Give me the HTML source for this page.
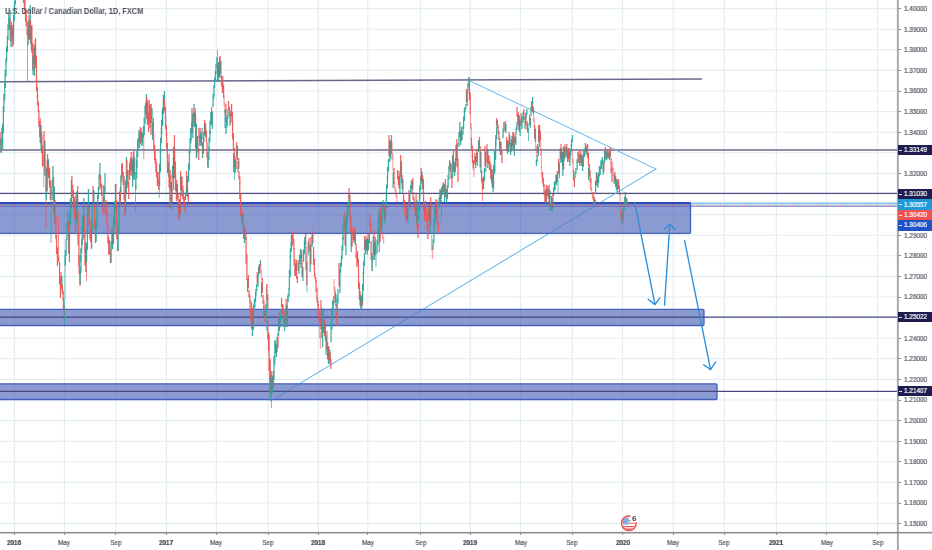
<!DOCTYPE html>
<html><head><meta charset="utf-8"><title>USDCAD</title>
<style>
html,body{margin:0;padding:0;background:#fff;}
body{width:932px;height:550px;position:relative;overflow:hidden;font-family:"Liberation Sans",sans-serif;}
.t{position:absolute;white-space:nowrap;}
.pl,.xl,.tag span,#title,.t{will-change:transform;}
.pl,.xl,.tag span{-webkit-text-stroke:0.22px currentColor;}
.pl{position:absolute;left:904px;font-size:7.3px;color:#555863;line-height:10px;transform:scaleX(0.875);transform-origin:0 50%;}
.xl{position:absolute;top:538px;font-size:7.3px;color:#555863;line-height:10px;transform:translateX(-50%) scaleX(0.86);}
.xl.b{font-weight:bold;color:#3c3f4a;}
.tag{position:absolute;left:898px;width:34px;height:10px;color:#fff;font-size:7.3px;line-height:10px;}
.tag i{position:absolute;left:1px;top:50%;width:3px;height:1px;background:#fff;opacity:.85}
.tag span{position:absolute;left:6px;top:0;transform:scaleX(0.875);transform-origin:0 50%;}
#title{position:absolute;left:5px;top:4px;font-size:8.8px;font-weight:bold;color:#50515a;line-height:14px;transform-origin:0 50%;transform:scaleX(0.842);}
</style></head><body>
<svg width="932" height="550" viewBox="0 0 932 550" style="position:absolute;left:0;top:0">
<g stroke="#e3edf3" stroke-width="1.1">
<line x1="14.4" y1="0" x2="14.4" y2="532.5"/>
<line x1="64.4" y1="0" x2="64.4" y2="532.5"/>
<line x1="115.9" y1="0" x2="115.9" y2="532.5"/>
<line x1="166.4" y1="0" x2="166.4" y2="532.5"/>
<line x1="216.3" y1="0" x2="216.3" y2="532.5"/>
<line x1="268.1" y1="0" x2="268.1" y2="532.5"/>
<line x1="318.3" y1="0" x2="318.3" y2="532.5"/>
<line x1="367.8" y1="0" x2="367.8" y2="532.5"/>
<line x1="420.6" y1="0" x2="420.6" y2="532.5"/>
<line x1="470.3" y1="0" x2="470.3" y2="532.5"/>
<line x1="520.5" y1="0" x2="520.5" y2="532.5"/>
<line x1="572.3" y1="0" x2="572.3" y2="532.5"/>
<line x1="622.5" y1="0" x2="622.5" y2="532.5"/>
<line x1="673.2" y1="0" x2="673.2" y2="532.5"/>
<line x1="724.3" y1="0" x2="724.3" y2="532.5"/>
<line x1="776.3" y1="0" x2="776.3" y2="532.5"/>
<line x1="826.5" y1="0" x2="826.5" y2="532.5"/>
<line x1="877.5" y1="0" x2="877.5" y2="532.5"/>
<line x1="0" y1="8.6" x2="897.5" y2="8.6"/>
<line x1="0" y1="29.2" x2="897.5" y2="29.2"/>
<line x1="0" y1="49.8" x2="897.5" y2="49.8"/>
<line x1="0" y1="70.4" x2="897.5" y2="70.4"/>
<line x1="0" y1="91.0" x2="897.5" y2="91.0"/>
<line x1="0" y1="111.6" x2="897.5" y2="111.6"/>
<line x1="0" y1="132.2" x2="897.5" y2="132.2"/>
<line x1="0" y1="152.8" x2="897.5" y2="152.8"/>
<line x1="0" y1="173.4" x2="897.5" y2="173.4"/>
<line x1="0" y1="194.0" x2="897.5" y2="194.0"/>
<line x1="0" y1="214.6" x2="897.5" y2="214.6"/>
<line x1="0" y1="235.2" x2="897.5" y2="235.2"/>
<line x1="0" y1="255.8" x2="897.5" y2="255.8"/>
<line x1="0" y1="276.4" x2="897.5" y2="276.4"/>
<line x1="0" y1="297.0" x2="897.5" y2="297.0"/>
<line x1="0" y1="317.6" x2="897.5" y2="317.6"/>
<line x1="0" y1="338.2" x2="897.5" y2="338.2"/>
<line x1="0" y1="358.8" x2="897.5" y2="358.8"/>
<line x1="0" y1="379.4" x2="897.5" y2="379.4"/>
<line x1="0" y1="400.0" x2="897.5" y2="400.0"/>
<line x1="0" y1="420.6" x2="897.5" y2="420.6"/>
<line x1="0" y1="441.2" x2="897.5" y2="441.2"/>
<line x1="0" y1="461.8" x2="897.5" y2="461.8"/>
<line x1="0" y1="482.4" x2="897.5" y2="482.4"/>
<line x1="0" y1="503.0" x2="897.5" y2="503.0"/>
<line x1="0" y1="523.6" x2="897.5" y2="523.6"/>
</g>
<line x1="0" y1="81.7" x2="702" y2="79" stroke="#6a658c" stroke-width="1.5"/>
<line x1="0" y1="150" x2="897.5" y2="150" stroke="#928eae" stroke-width="1.9"/>
<line x1="0" y1="193.4" x2="897.5" y2="193.4" stroke="#55507d" stroke-width="1.15"/>
<line x1="690" y1="203.6" x2="897.5" y2="203.6" stroke="#84c7ec" stroke-width="2"/>
<g stroke="#62b6e6" stroke-width="1.0" fill="none" stroke-linecap="round">
<line x1="271.5" y1="400.5" x2="656" y2="169"/>
<line x1="469.3" y1="80.6" x2="656" y2="169"/>
</g>
<rect x="-2" y="202.6" width="692.5" height="30.8" rx="1.2" fill="rgba(64,86,180,0.6)" stroke="#4560bb" stroke-width="1.3"/>
<line x1="0" y1="203.2" x2="690.5" y2="203.2" stroke="#2a4cb3" stroke-width="2.2"/>
<rect x="-2" y="309.3" width="706.0" height="16.2" rx="1.2" fill="rgba(64,86,180,0.6)" stroke="#4560bb" stroke-width="1.3"/>
<line x1="0" y1="317.2" x2="897.5" y2="317.2" stroke="#47487f" stroke-width="1.3"/>
<rect x="-2" y="383.8" width="719.0" height="15.7" rx="1.2" fill="rgba(64,86,180,0.6)" stroke="#4560bb" stroke-width="1.3"/>
<line x1="0" y1="391.4" x2="897.5" y2="391.4" stroke="#47487f" stroke-width="1.3"/>
<g>
<rect x="-0.54" y="132.0" width="1.25" height="12.4" fill="#ef5350" opacity="0.92"/>
<rect x="0.29" y="140.0" width="1.25" height="12.0" fill="#ef5350" opacity="0.92"/>
<rect x="0.46" y="138.0" width="1.25" height="15.0" fill="#26a69a" opacity="0.92"/>
<rect x="1.29" y="128.0" width="1.25" height="15.5" fill="#26a69a" opacity="0.92"/>
<rect x="1.96" y="123.6" width="1.25" height="26.4" fill="#26a69a" opacity="0.92"/>
<rect x="2.79" y="106.0" width="1.25" height="27.3" fill="#26a69a" opacity="0.92"/>
<rect x="3.25" y="94.0" width="1.25" height="18.0" fill="#26a69a" opacity="0.92"/>
<rect x="4.09" y="82.0" width="1.25" height="18.6" fill="#26a69a" opacity="0.92"/>
<rect x="4.55" y="70.0" width="1.25" height="18.0" fill="#26a69a" opacity="0.92"/>
<rect x="5.39" y="58.0" width="1.25" height="18.6" fill="#26a69a" opacity="0.92"/>
<rect x="5.96" y="46.4" width="1.25" height="15.6" fill="#26a69a" opacity="0.92"/>
<rect x="6.79" y="36.0" width="1.25" height="16.1" fill="#26a69a" opacity="0.92"/>
<rect x="7.36" y="24.4" width="1.25" height="15.6" fill="#26a69a" opacity="0.92"/>
<rect x="8.20" y="14.0" width="1.25" height="16.1" fill="#26a69a" opacity="0.92"/>
<rect x="8.55" y="18.0" width="1.25" height="12.0" fill="#26a69a" opacity="0.92"/>
<rect x="9.39" y="10.0" width="1.25" height="12.4" fill="#26a69a" opacity="0.92"/>
<rect x="9.55" y="20.0" width="1.25" height="21.1" fill="#ef5350" opacity="0.88"/>
<rect x="10.39" y="25.9" width="1.25" height="21.1" fill="#26a69a" opacity="0.88"/>
<rect x="10.15" y="25.4" width="0.90" height="16.2" fill="#6f7478" opacity="0.60"/>
<rect x="10.76" y="22.0" width="1.25" height="15.5" fill="#ef5350" opacity="0.92"/>
<rect x="11.60" y="32.0" width="1.25" height="15.0" fill="#ef5350" opacity="0.92"/>
<rect x="11.96" y="25.0" width="1.25" height="15.6" fill="#ef5350" opacity="0.88"/>
<rect x="12.79" y="29.4" width="1.25" height="15.6" fill="#26a69a" opacity="0.88"/>
<rect x="12.55" y="29.0" width="0.90" height="12.0" fill="#6f7478" opacity="0.60"/>
<rect x="12.96" y="15.0" width="1.25" height="15.0" fill="#26a69a" opacity="0.92"/>
<rect x="13.79" y="5.0" width="1.25" height="15.5" fill="#26a69a" opacity="0.92"/>
<rect x="13.96" y="1.0" width="1.25" height="9.0" fill="#26a69a" opacity="0.92"/>
<rect x="14.79" y="-5.0" width="1.25" height="9.3" fill="#26a69a" opacity="0.92"/>
<rect x="22.95" y="-5.0" width="1.25" height="8.1" fill="#ef5350" opacity="0.92"/>
<rect x="23.80" y="0.2" width="1.25" height="7.8" fill="#ef5350" opacity="0.92"/>
<rect x="24.25" y="0.0" width="1.25" height="13.6" fill="#ef5350" opacity="0.92"/>
<rect x="25.10" y="8.8" width="1.25" height="13.2" fill="#ef5350" opacity="0.92"/>
<rect x="25.55" y="12.0" width="1.25" height="14.3" fill="#ef5350" opacity="0.92"/>
<rect x="26.40" y="21.2" width="1.25" height="13.8" fill="#ef5350" opacity="0.92"/>
<rect x="27.10" y="30.0" width="0.80" height="52.0" fill="#ef5350" opacity="0.85"/>
<rect x="27.55" y="21.6" width="1.25" height="23.4" fill="#26a69a" opacity="0.88"/>
<rect x="28.40" y="15.0" width="1.25" height="23.4" fill="#ef5350" opacity="0.88"/>
<rect x="28.15" y="21.0" width="0.90" height="18.0" fill="#6f7478" opacity="0.60"/>
<rect x="28.75" y="19.0" width="1.25" height="21.0" fill="#26a69a" opacity="0.92"/>
<rect x="29.60" y="5.0" width="1.25" height="21.7" fill="#26a69a" opacity="0.92"/>
<rect x="29.95" y="20.0" width="1.25" height="23.4" fill="#ef5350" opacity="0.88"/>
<rect x="30.80" y="26.6" width="1.25" height="23.4" fill="#26a69a" opacity="0.88"/>
<rect x="30.55" y="26.0" width="0.90" height="18.0" fill="#6f7478" opacity="0.60"/>
<rect x="31.25" y="25.0" width="1.25" height="27.9" fill="#ef5350" opacity="0.92"/>
<rect x="32.09" y="43.0" width="1.25" height="27.0" fill="#ef5350" opacity="0.92"/>
<rect x="32.45" y="57.0" width="1.25" height="18.0" fill="#26a69a" opacity="0.92"/>
<rect x="33.30" y="45.0" width="1.25" height="18.6" fill="#26a69a" opacity="0.92"/>
<rect x="33.75" y="47.9" width="1.25" height="28.1" fill="#26a69a" opacity="0.88"/>
<rect x="34.59" y="40.0" width="1.25" height="28.1" fill="#ef5350" opacity="0.88"/>
<rect x="34.35" y="47.2" width="0.90" height="21.6" fill="#6f7478" opacity="0.60"/>
<rect x="34.95" y="38.0" width="1.25" height="27.3" fill="#ef5350" opacity="0.92"/>
<rect x="35.80" y="55.6" width="1.25" height="26.4" fill="#ef5350" opacity="0.92"/>
<rect x="35.95" y="80.0" width="1.25" height="11.2" fill="#ef5350" opacity="0.92"/>
<rect x="36.80" y="87.2" width="1.25" height="10.8" fill="#ef5350" opacity="0.92"/>
<rect x="36.95" y="95.0" width="1.25" height="10.5" fill="#ef5350" opacity="0.92"/>
<rect x="37.80" y="101.8" width="1.25" height="10.2" fill="#ef5350" opacity="0.92"/>
<rect x="38.25" y="110.0" width="1.25" height="16.7" fill="#ef5350" opacity="0.92"/>
<rect x="39.09" y="120.8" width="1.25" height="16.2" fill="#ef5350" opacity="0.92"/>
<rect x="39.55" y="118.0" width="1.25" height="25.0" fill="#ef5350" opacity="0.88"/>
<rect x="40.40" y="125.0" width="1.25" height="25.0" fill="#26a69a" opacity="0.88"/>
<rect x="40.15" y="124.4" width="0.90" height="19.2" fill="#6f7478" opacity="0.60"/>
<rect x="40.95" y="132.0" width="1.25" height="21.1" fill="#ef5350" opacity="0.92"/>
<rect x="41.80" y="145.6" width="1.25" height="20.4" fill="#ef5350" opacity="0.92"/>
<rect x="42.25" y="135.0" width="1.25" height="32.2" fill="#ef5350" opacity="0.50"/>
<rect x="43.09" y="155.8" width="1.25" height="31.2" fill="#ef5350" opacity="0.50"/>
<rect x="43.45" y="131.0" width="1.25" height="35.1" fill="#ef5350" opacity="0.88"/>
<rect x="44.30" y="140.9" width="1.25" height="35.1" fill="#26a69a" opacity="0.88"/>
<rect x="44.05" y="140.0" width="0.90" height="27.0" fill="#6f7478" opacity="0.60"/>
<rect x="44.25" y="150.0" width="1.25" height="24.8" fill="#ef5350" opacity="0.50"/>
<rect x="45.09" y="166.0" width="1.25" height="24.0" fill="#ef5350" opacity="0.50"/>
<rect x="45.60" y="185.0" width="0.80" height="44.0" fill="#ef5350" opacity="0.85"/>
<rect x="45.75" y="168.8" width="1.25" height="31.2" fill="#26a69a" opacity="0.88"/>
<rect x="46.59" y="160.0" width="1.25" height="31.2" fill="#ef5350" opacity="0.88"/>
<rect x="46.35" y="168.0" width="0.90" height="24.0" fill="#6f7478" opacity="0.60"/>
<rect x="46.95" y="154.0" width="1.25" height="18.7" fill="#ef5350" opacity="0.88"/>
<rect x="47.80" y="159.3" width="1.25" height="18.7" fill="#26a69a" opacity="0.88"/>
<rect x="47.55" y="158.8" width="0.90" height="14.4" fill="#6f7478" opacity="0.60"/>
<rect x="47.95" y="165.0" width="1.25" height="11.8" fill="#ef5350" opacity="0.92"/>
<rect x="48.80" y="172.6" width="1.25" height="11.4" fill="#ef5350" opacity="0.92"/>
<rect x="48.95" y="168.0" width="1.25" height="19.8" fill="#ef5350" opacity="0.92"/>
<rect x="49.80" y="180.8" width="1.25" height="19.2" fill="#ef5350" opacity="0.92"/>
<rect x="50.60" y="187.0" width="0.80" height="56.0" fill="#26a69a" opacity="0.85"/>
<rect x="51.45" y="179.6" width="1.25" height="20.4" fill="#26a69a" opacity="0.92"/>
<rect x="52.30" y="166.0" width="1.25" height="21.1" fill="#26a69a" opacity="0.92"/>
<rect x="52.95" y="177.0" width="1.25" height="35.1" fill="#ef5350" opacity="0.88"/>
<rect x="53.80" y="186.9" width="1.25" height="35.1" fill="#26a69a" opacity="0.88"/>
<rect x="53.55" y="186.0" width="0.90" height="27.0" fill="#6f7478" opacity="0.60"/>
<rect x="54.45" y="200.0" width="1.25" height="24.2" fill="#ef5350" opacity="0.92"/>
<rect x="55.30" y="215.6" width="1.25" height="23.4" fill="#ef5350" opacity="0.92"/>
<rect x="55.95" y="235.0" width="1.25" height="19.2" fill="#ef5350" opacity="0.92"/>
<rect x="56.80" y="247.4" width="1.25" height="18.6" fill="#ef5350" opacity="0.92"/>
<rect x="58.10" y="217.0" width="0.80" height="45.0" fill="#ef5350" opacity="0.85"/>
<rect x="57.25" y="255.0" width="1.25" height="4.3" fill="#ef5350" opacity="0.92"/>
<rect x="58.09" y="257.8" width="1.25" height="4.2" fill="#ef5350" opacity="0.92"/>
<rect x="58.95" y="262.0" width="1.25" height="22.3" fill="#ef5350" opacity="0.92"/>
<rect x="59.80" y="276.4" width="1.25" height="21.6" fill="#ef5350" opacity="0.92"/>
<rect x="60.45" y="272.0" width="1.25" height="14.8" fill="#ef5350" opacity="0.88"/>
<rect x="61.30" y="276.2" width="1.25" height="14.8" fill="#26a69a" opacity="0.88"/>
<rect x="61.05" y="275.8" width="0.90" height="11.4" fill="#6f7478" opacity="0.60"/>
<rect x="61.75" y="285.0" width="1.25" height="9.3" fill="#ef5350" opacity="0.92"/>
<rect x="62.59" y="291.0" width="1.25" height="9.0" fill="#ef5350" opacity="0.92"/>
<rect x="62.75" y="298.0" width="1.25" height="11.2" fill="#ef5350" opacity="0.92"/>
<rect x="63.59" y="305.2" width="1.25" height="10.8" fill="#ef5350" opacity="0.92"/>
<rect x="64.00" y="300.0" width="0.80" height="25.0" fill="#26a69a" opacity="0.85"/>
<rect x="64.60" y="255.0" width="0.80" height="45.0" fill="#26a69a" opacity="0.85"/>
<rect x="64.66" y="249.8" width="1.25" height="16.2" fill="#26a69a" opacity="0.92"/>
<rect x="65.50" y="239.0" width="1.25" height="16.7" fill="#26a69a" opacity="0.92"/>
<rect x="66.25" y="222.6" width="1.25" height="17.4" fill="#26a69a" opacity="0.92"/>
<rect x="67.09" y="211.0" width="1.25" height="18.0" fill="#26a69a" opacity="0.92"/>
<rect x="67.95" y="222.0" width="1.25" height="31.2" fill="#ef5350" opacity="0.88"/>
<rect x="68.80" y="230.8" width="1.25" height="31.2" fill="#26a69a" opacity="0.88"/>
<rect x="68.55" y="230.0" width="0.90" height="24.0" fill="#6f7478" opacity="0.60"/>
<rect x="68.95" y="212.0" width="1.25" height="18.0" fill="#26a69a" opacity="0.92"/>
<rect x="69.80" y="200.0" width="1.25" height="18.6" fill="#26a69a" opacity="0.92"/>
<rect x="69.95" y="198.0" width="1.25" height="27.0" fill="#26a69a" opacity="0.92"/>
<rect x="70.80" y="180.0" width="1.25" height="27.9" fill="#26a69a" opacity="0.92"/>
<rect x="71.25" y="176.0" width="1.25" height="13.6" fill="#ef5350" opacity="0.92"/>
<rect x="72.09" y="184.8" width="1.25" height="13.2" fill="#ef5350" opacity="0.92"/>
<rect x="72.75" y="190.0" width="1.25" height="15.5" fill="#ef5350" opacity="0.92"/>
<rect x="73.59" y="200.0" width="1.25" height="15.0" fill="#ef5350" opacity="0.92"/>
<rect x="73.95" y="197.0" width="1.25" height="21.7" fill="#ef5350" opacity="0.92"/>
<rect x="74.80" y="211.0" width="1.25" height="21.0" fill="#ef5350" opacity="0.92"/>
<rect x="75.25" y="195.0" width="1.25" height="23.4" fill="#ef5350" opacity="0.88"/>
<rect x="76.09" y="201.6" width="1.25" height="23.4" fill="#26a69a" opacity="0.88"/>
<rect x="75.85" y="201.0" width="0.90" height="18.0" fill="#6f7478" opacity="0.60"/>
<rect x="76.25" y="191.5" width="1.25" height="19.5" fill="#26a69a" opacity="0.88"/>
<rect x="77.09" y="186.0" width="1.25" height="19.5" fill="#ef5350" opacity="0.88"/>
<rect x="76.85" y="191.0" width="0.90" height="15.0" fill="#6f7478" opacity="0.60"/>
<rect x="77.45" y="211.0" width="1.25" height="34.1" fill="#ef5350" opacity="0.92"/>
<rect x="78.30" y="233.0" width="1.25" height="33.0" fill="#ef5350" opacity="0.92"/>
<rect x="78.55" y="255.0" width="1.25" height="19.2" fill="#ef5350" opacity="0.92"/>
<rect x="79.39" y="267.4" width="1.25" height="18.6" fill="#ef5350" opacity="0.92"/>
<rect x="79.45" y="266.6" width="1.25" height="17.4" fill="#26a69a" opacity="0.92"/>
<rect x="80.30" y="255.0" width="1.25" height="18.0" fill="#26a69a" opacity="0.92"/>
<rect x="80.25" y="248.2" width="1.25" height="13.8" fill="#26a69a" opacity="0.92"/>
<rect x="81.09" y="239.0" width="1.25" height="14.3" fill="#26a69a" opacity="0.92"/>
<rect x="81.45" y="227.0" width="1.25" height="18.0" fill="#26a69a" opacity="0.92"/>
<rect x="82.30" y="215.0" width="1.25" height="18.6" fill="#26a69a" opacity="0.92"/>
<rect x="82.45" y="214.8" width="1.25" height="25.2" fill="#26a69a" opacity="0.92"/>
<rect x="83.30" y="198.0" width="1.25" height="26.0" fill="#26a69a" opacity="0.92"/>
<rect x="83.55" y="215.0" width="1.25" height="22.9" fill="#ef5350" opacity="0.92"/>
<rect x="84.39" y="229.8" width="1.25" height="22.2" fill="#ef5350" opacity="0.92"/>
<rect x="84.36" y="242.0" width="1.25" height="23.4" fill="#ef5350" opacity="0.88"/>
<rect x="85.20" y="248.6" width="1.25" height="23.4" fill="#26a69a" opacity="0.88"/>
<rect x="84.95" y="248.0" width="0.90" height="18.0" fill="#6f7478" opacity="0.60"/>
<rect x="86.10" y="246.0" width="0.80" height="35.0" fill="#ef5350" opacity="0.85"/>
<rect x="85.95" y="242.8" width="1.25" height="19.2" fill="#26a69a" opacity="0.92"/>
<rect x="86.80" y="230.0" width="1.25" height="19.8" fill="#26a69a" opacity="0.92"/>
<rect x="86.95" y="206.2" width="1.25" height="25.8" fill="#26a69a" opacity="0.92"/>
<rect x="87.80" y="189.0" width="1.25" height="26.7" fill="#26a69a" opacity="0.92"/>
<rect x="88.45" y="205.0" width="1.25" height="21.1" fill="#ef5350" opacity="0.92"/>
<rect x="89.30" y="218.6" width="1.25" height="20.4" fill="#ef5350" opacity="0.92"/>
<rect x="89.95" y="230.0" width="1.25" height="11.8" fill="#ef5350" opacity="0.92"/>
<rect x="90.80" y="237.6" width="1.25" height="11.4" fill="#ef5350" opacity="0.92"/>
<rect x="90.95" y="221.6" width="1.25" height="26.4" fill="#26a69a" opacity="0.92"/>
<rect x="91.80" y="204.0" width="1.25" height="27.3" fill="#26a69a" opacity="0.92"/>
<rect x="92.45" y="186.0" width="1.25" height="15.6" fill="#ef5350" opacity="0.88"/>
<rect x="93.30" y="190.4" width="1.25" height="15.6" fill="#26a69a" opacity="0.88"/>
<rect x="93.05" y="190.0" width="0.90" height="12.0" fill="#6f7478" opacity="0.60"/>
<rect x="93.95" y="204.0" width="1.25" height="24.2" fill="#ef5350" opacity="0.92"/>
<rect x="94.80" y="219.6" width="1.25" height="23.4" fill="#ef5350" opacity="0.92"/>
<rect x="95.45" y="219.2" width="1.25" height="22.8" fill="#26a69a" opacity="0.92"/>
<rect x="96.30" y="204.0" width="1.25" height="23.6" fill="#26a69a" opacity="0.92"/>
<rect x="96.95" y="194.6" width="1.25" height="11.4" fill="#26a69a" opacity="0.92"/>
<rect x="97.80" y="187.0" width="1.25" height="11.8" fill="#26a69a" opacity="0.92"/>
<rect x="98.45" y="173.8" width="1.25" height="16.2" fill="#26a69a" opacity="0.92"/>
<rect x="99.30" y="163.0" width="1.25" height="16.7" fill="#26a69a" opacity="0.92"/>
<rect x="99.95" y="175.0" width="1.25" height="13.0" fill="#ef5350" opacity="0.92"/>
<rect x="100.80" y="183.4" width="1.25" height="12.6" fill="#ef5350" opacity="0.92"/>
<rect x="101.45" y="196.0" width="1.25" height="11.8" fill="#ef5350" opacity="0.50"/>
<rect x="102.30" y="203.6" width="1.25" height="11.4" fill="#ef5350" opacity="0.50"/>
<rect x="102.55" y="185.0" width="1.25" height="17.4" fill="#ef5350" opacity="0.92"/>
<rect x="103.39" y="196.2" width="1.25" height="16.8" fill="#ef5350" opacity="0.92"/>
<rect x="103.55" y="185.8" width="1.25" height="19.2" fill="#26a69a" opacity="0.92"/>
<rect x="104.39" y="173.0" width="1.25" height="19.8" fill="#26a69a" opacity="0.92"/>
<rect x="105.45" y="200.0" width="1.25" height="15.5" fill="#ef5350" opacity="0.92"/>
<rect x="106.30" y="210.0" width="1.25" height="15.0" fill="#ef5350" opacity="0.92"/>
<rect x="107.25" y="225.0" width="1.25" height="18.6" fill="#ef5350" opacity="0.92"/>
<rect x="108.09" y="237.0" width="1.25" height="18.0" fill="#ef5350" opacity="0.92"/>
<rect x="108.95" y="240.0" width="1.25" height="14.3" fill="#ef5350" opacity="0.92"/>
<rect x="109.80" y="249.2" width="1.25" height="13.8" fill="#ef5350" opacity="0.92"/>
<rect x="110.45" y="241.4" width="1.25" height="21.6" fill="#26a69a" opacity="0.92"/>
<rect x="111.30" y="227.0" width="1.25" height="22.3" fill="#26a69a" opacity="0.92"/>
<rect x="111.95" y="231.8" width="1.25" height="17.2" fill="#26a69a" opacity="0.88"/>
<rect x="112.80" y="227.0" width="1.25" height="17.2" fill="#ef5350" opacity="0.88"/>
<rect x="112.55" y="231.4" width="0.90" height="13.2" fill="#6f7478" opacity="0.60"/>
<rect x="112.95" y="217.0" width="1.25" height="18.0" fill="#26a69a" opacity="0.92"/>
<rect x="113.80" y="205.0" width="1.25" height="18.6" fill="#26a69a" opacity="0.92"/>
<rect x="113.95" y="201.2" width="1.25" height="25.8" fill="#26a69a" opacity="0.92"/>
<rect x="114.80" y="184.0" width="1.25" height="26.7" fill="#26a69a" opacity="0.92"/>
<rect x="115.25" y="184.0" width="1.25" height="25.4" fill="#ef5350" opacity="0.92"/>
<rect x="116.09" y="200.4" width="1.25" height="24.6" fill="#ef5350" opacity="0.92"/>
<rect x="116.25" y="220.0" width="1.25" height="19.2" fill="#ef5350" opacity="0.92"/>
<rect x="117.09" y="232.4" width="1.25" height="18.6" fill="#ef5350" opacity="0.92"/>
<rect x="117.45" y="222.8" width="1.25" height="28.2" fill="#26a69a" opacity="0.92"/>
<rect x="118.30" y="204.0" width="1.25" height="29.1" fill="#26a69a" opacity="0.92"/>
<rect x="118.95" y="191.6" width="1.25" height="16.4" fill="#26a69a" opacity="0.88"/>
<rect x="119.80" y="187.0" width="1.25" height="16.4" fill="#ef5350" opacity="0.88"/>
<rect x="119.55" y="191.2" width="0.90" height="12.6" fill="#6f7478" opacity="0.60"/>
<rect x="120.25" y="175.2" width="1.25" height="16.8" fill="#26a69a" opacity="0.92"/>
<rect x="121.09" y="164.0" width="1.25" height="17.4" fill="#26a69a" opacity="0.92"/>
<rect x="121.75" y="163.0" width="1.25" height="13.6" fill="#ef5350" opacity="0.92"/>
<rect x="122.59" y="171.8" width="1.25" height="13.2" fill="#ef5350" opacity="0.92"/>
<rect x="123.45" y="176.0" width="1.25" height="24.2" fill="#ef5350" opacity="0.92"/>
<rect x="124.30" y="191.6" width="1.25" height="23.4" fill="#ef5350" opacity="0.92"/>
<rect x="124.95" y="180.2" width="1.25" height="34.8" fill="#26a69a" opacity="0.92"/>
<rect x="125.80" y="157.0" width="1.25" height="36.0" fill="#26a69a" opacity="0.92"/>
<rect x="126.25" y="160.0" width="1.25" height="15.5" fill="#ef5350" opacity="0.92"/>
<rect x="127.09" y="170.0" width="1.25" height="15.0" fill="#ef5350" opacity="0.92"/>
<rect x="127.26" y="170.0" width="1.25" height="18.0" fill="#ef5350" opacity="0.92"/>
<rect x="128.09" y="181.6" width="1.25" height="17.4" fill="#ef5350" opacity="0.92"/>
<rect x="128.96" y="162.8" width="1.25" height="17.2" fill="#26a69a" opacity="0.88"/>
<rect x="129.79" y="158.0" width="1.25" height="17.2" fill="#ef5350" opacity="0.88"/>
<rect x="129.55" y="162.4" width="0.90" height="13.2" fill="#6f7478" opacity="0.60"/>
<rect x="130.46" y="152.0" width="1.25" height="18.7" fill="#ef5350" opacity="0.88"/>
<rect x="131.29" y="157.3" width="1.25" height="18.7" fill="#26a69a" opacity="0.88"/>
<rect x="131.05" y="156.8" width="0.90" height="14.4" fill="#6f7478" opacity="0.60"/>
<rect x="131.96" y="159.7" width="1.25" height="27.3" fill="#26a69a" opacity="0.88"/>
<rect x="132.79" y="152.0" width="1.25" height="27.3" fill="#ef5350" opacity="0.88"/>
<rect x="132.55" y="159.0" width="0.90" height="21.0" fill="#6f7478" opacity="0.60"/>
<rect x="133.26" y="151.0" width="1.25" height="22.6" fill="#ef5350" opacity="0.88"/>
<rect x="134.09" y="157.4" width="1.25" height="22.6" fill="#26a69a" opacity="0.88"/>
<rect x="133.85" y="156.8" width="0.90" height="17.4" fill="#6f7478" opacity="0.60"/>
<rect x="135.10" y="184.0" width="0.80" height="29.0" fill="#26a69a" opacity="0.85"/>
<rect x="135.26" y="172.0" width="1.25" height="18.0" fill="#26a69a" opacity="0.92"/>
<rect x="136.09" y="160.0" width="1.25" height="18.6" fill="#26a69a" opacity="0.92"/>
<rect x="136.26" y="151.2" width="1.25" height="16.8" fill="#26a69a" opacity="0.92"/>
<rect x="137.09" y="140.0" width="1.25" height="17.4" fill="#26a69a" opacity="0.92"/>
<rect x="137.46" y="138.0" width="1.25" height="12.0" fill="#26a69a" opacity="0.92"/>
<rect x="138.29" y="130.0" width="1.25" height="12.4" fill="#26a69a" opacity="0.92"/>
<rect x="138.96" y="131.6" width="1.25" height="16.4" fill="#26a69a" opacity="0.88"/>
<rect x="139.79" y="127.0" width="1.25" height="16.4" fill="#ef5350" opacity="0.88"/>
<rect x="139.55" y="131.2" width="0.90" height="12.6" fill="#6f7478" opacity="0.60"/>
<rect x="140.46" y="128.0" width="1.25" height="14.0" fill="#ef5350" opacity="0.88"/>
<rect x="141.29" y="132.0" width="1.25" height="14.0" fill="#26a69a" opacity="0.88"/>
<rect x="141.05" y="131.6" width="0.90" height="10.8" fill="#6f7478" opacity="0.60"/>
<rect x="141.96" y="133.6" width="1.25" height="11.4" fill="#26a69a" opacity="0.92"/>
<rect x="142.79" y="126.0" width="1.25" height="11.8" fill="#26a69a" opacity="0.92"/>
<rect x="143.40" y="133.0" width="0.80" height="26.0" fill="#ef5350" opacity="0.85"/>
<rect x="143.56" y="117.6" width="1.25" height="17.4" fill="#26a69a" opacity="0.92"/>
<rect x="144.39" y="106.0" width="1.25" height="18.0" fill="#26a69a" opacity="0.92"/>
<rect x="144.96" y="102.4" width="1.25" height="12.6" fill="#26a69a" opacity="0.92"/>
<rect x="145.79" y="94.0" width="1.25" height="13.0" fill="#26a69a" opacity="0.92"/>
<rect x="145.96" y="97.0" width="1.25" height="21.8" fill="#ef5350" opacity="0.88"/>
<rect x="146.79" y="103.2" width="1.25" height="21.8" fill="#26a69a" opacity="0.88"/>
<rect x="146.55" y="102.6" width="0.90" height="16.8" fill="#6f7478" opacity="0.60"/>
<rect x="147.16" y="100.0" width="1.25" height="19.8" fill="#ef5350" opacity="0.92"/>
<rect x="147.99" y="112.8" width="1.25" height="19.2" fill="#ef5350" opacity="0.92"/>
<rect x="148.46" y="100.0" width="1.25" height="21.8" fill="#ef5350" opacity="0.88"/>
<rect x="149.29" y="106.2" width="1.25" height="21.8" fill="#26a69a" opacity="0.88"/>
<rect x="149.05" y="105.6" width="0.90" height="16.8" fill="#6f7478" opacity="0.60"/>
<rect x="149.56" y="104.0" width="1.25" height="19.2" fill="#ef5350" opacity="0.92"/>
<rect x="150.39" y="116.4" width="1.25" height="18.6" fill="#ef5350" opacity="0.92"/>
<rect x="150.56" y="104.0" width="1.25" height="14.8" fill="#ef5350" opacity="0.88"/>
<rect x="151.39" y="108.2" width="1.25" height="14.8" fill="#26a69a" opacity="0.88"/>
<rect x="151.15" y="107.8" width="0.90" height="11.4" fill="#6f7478" opacity="0.60"/>
<rect x="151.96" y="122.8" width="1.25" height="17.2" fill="#26a69a" opacity="0.88"/>
<rect x="152.79" y="118.0" width="1.25" height="17.2" fill="#ef5350" opacity="0.88"/>
<rect x="152.55" y="122.4" width="0.90" height="13.2" fill="#6f7478" opacity="0.60"/>
<rect x="153.16" y="135.0" width="1.25" height="15.5" fill="#ef5350" opacity="0.92"/>
<rect x="153.99" y="145.0" width="1.25" height="15.0" fill="#ef5350" opacity="0.92"/>
<rect x="154.46" y="150.0" width="1.25" height="13.6" fill="#ef5350" opacity="0.92"/>
<rect x="155.29" y="158.8" width="1.25" height="13.2" fill="#ef5350" opacity="0.92"/>
<rect x="155.96" y="163.0" width="1.25" height="14.3" fill="#ef5350" opacity="0.92"/>
<rect x="156.79" y="172.2" width="1.25" height="13.8" fill="#ef5350" opacity="0.92"/>
<rect x="157.36" y="172.0" width="1.25" height="11.2" fill="#ef5350" opacity="0.92"/>
<rect x="158.19" y="179.2" width="1.25" height="10.8" fill="#ef5350" opacity="0.92"/>
<rect x="158.80" y="185.0" width="0.80" height="13.0" fill="#26a69a" opacity="0.85"/>
<rect x="158.96" y="163.8" width="1.25" height="22.2" fill="#26a69a" opacity="0.92"/>
<rect x="159.79" y="149.0" width="1.25" height="22.9" fill="#26a69a" opacity="0.92"/>
<rect x="159.96" y="137.6" width="1.25" height="14.4" fill="#26a69a" opacity="0.92"/>
<rect x="160.79" y="128.0" width="1.25" height="14.9" fill="#26a69a" opacity="0.92"/>
<rect x="160.96" y="120.0" width="1.25" height="15.0" fill="#26a69a" opacity="0.92"/>
<rect x="161.79" y="110.0" width="1.25" height="15.5" fill="#26a69a" opacity="0.92"/>
<rect x="161.96" y="107.4" width="1.25" height="18.6" fill="#26a69a" opacity="0.92"/>
<rect x="162.79" y="95.0" width="1.25" height="19.2" fill="#26a69a" opacity="0.92"/>
<rect x="162.96" y="96.6" width="1.25" height="8.4" fill="#26a69a" opacity="0.92"/>
<rect x="163.79" y="91.0" width="1.25" height="8.7" fill="#26a69a" opacity="0.92"/>
<rect x="163.96" y="99.0" width="1.25" height="12.4" fill="#ef5350" opacity="0.92"/>
<rect x="164.79" y="107.0" width="1.25" height="12.0" fill="#ef5350" opacity="0.92"/>
<rect x="164.96" y="118.0" width="1.25" height="11.2" fill="#ef5350" opacity="0.92"/>
<rect x="165.79" y="125.2" width="1.25" height="10.8" fill="#ef5350" opacity="0.92"/>
<rect x="165.96" y="133.0" width="1.25" height="15.5" fill="#ef5350" opacity="0.92"/>
<rect x="166.79" y="143.0" width="1.25" height="15.0" fill="#ef5350" opacity="0.92"/>
<rect x="166.96" y="158.0" width="1.25" height="14.8" fill="#ef5350" opacity="0.88"/>
<rect x="167.79" y="162.2" width="1.25" height="14.8" fill="#26a69a" opacity="0.88"/>
<rect x="167.55" y="161.8" width="0.90" height="11.4" fill="#6f7478" opacity="0.60"/>
<rect x="168.46" y="154.0" width="1.25" height="33.5" fill="#ef5350" opacity="0.92"/>
<rect x="169.29" y="175.6" width="1.25" height="32.4" fill="#ef5350" opacity="0.92"/>
<rect x="169.56" y="170.0" width="1.25" height="18.6" fill="#ef5350" opacity="0.92"/>
<rect x="170.39" y="182.0" width="1.25" height="18.0" fill="#ef5350" opacity="0.92"/>
<rect x="170.56" y="182.7" width="1.25" height="27.3" fill="#26a69a" opacity="0.88"/>
<rect x="171.39" y="175.0" width="1.25" height="27.3" fill="#ef5350" opacity="0.88"/>
<rect x="171.15" y="182.0" width="0.90" height="21.0" fill="#6f7478" opacity="0.60"/>
<rect x="171.96" y="166.0" width="1.25" height="12.0" fill="#26a69a" opacity="0.92"/>
<rect x="172.79" y="158.0" width="1.25" height="12.4" fill="#26a69a" opacity="0.92"/>
<rect x="172.96" y="147.1" width="1.25" height="42.9" fill="#26a69a" opacity="0.88"/>
<rect x="173.79" y="135.0" width="1.25" height="42.9" fill="#ef5350" opacity="0.88"/>
<rect x="173.55" y="146.0" width="0.90" height="33.0" fill="#6f7478" opacity="0.60"/>
<rect x="173.96" y="151.0" width="1.25" height="16.1" fill="#ef5350" opacity="0.92"/>
<rect x="174.79" y="161.4" width="1.25" height="15.6" fill="#ef5350" opacity="0.92"/>
<rect x="174.96" y="175.0" width="1.25" height="16.1" fill="#ef5350" opacity="0.92"/>
<rect x="175.79" y="185.4" width="1.25" height="15.6" fill="#ef5350" opacity="0.92"/>
<rect x="175.96" y="180.0" width="1.25" height="14.8" fill="#ef5350" opacity="0.88"/>
<rect x="176.79" y="184.2" width="1.25" height="14.8" fill="#26a69a" opacity="0.88"/>
<rect x="176.55" y="183.8" width="0.90" height="11.4" fill="#6f7478" opacity="0.60"/>
<rect x="177.46" y="194.0" width="1.25" height="16.1" fill="#ef5350" opacity="0.92"/>
<rect x="178.29" y="204.4" width="1.25" height="15.6" fill="#ef5350" opacity="0.92"/>
<rect x="178.96" y="199.5" width="1.25" height="19.5" fill="#26a69a" opacity="0.88"/>
<rect x="179.79" y="194.0" width="1.25" height="19.5" fill="#ef5350" opacity="0.88"/>
<rect x="179.55" y="199.0" width="0.90" height="15.0" fill="#6f7478" opacity="0.60"/>
<rect x="179.96" y="171.0" width="1.25" height="19.5" fill="#ef5350" opacity="0.88"/>
<rect x="180.79" y="176.5" width="1.25" height="19.5" fill="#26a69a" opacity="0.88"/>
<rect x="180.55" y="176.0" width="0.90" height="15.0" fill="#6f7478" opacity="0.60"/>
<rect x="181.46" y="177.0" width="1.25" height="13.6" fill="#ef5350" opacity="0.92"/>
<rect x="182.29" y="185.8" width="1.25" height="13.2" fill="#ef5350" opacity="0.92"/>
<rect x="182.56" y="190.0" width="1.25" height="9.3" fill="#ef5350" opacity="0.92"/>
<rect x="183.39" y="196.0" width="1.25" height="9.0" fill="#ef5350" opacity="0.92"/>
<rect x="183.56" y="197.0" width="1.25" height="9.3" fill="#ef5350" opacity="0.92"/>
<rect x="184.39" y="203.0" width="1.25" height="9.0" fill="#ef5350" opacity="0.92"/>
<rect x="184.96" y="193.4" width="1.25" height="6.6" fill="#26a69a" opacity="0.92"/>
<rect x="185.79" y="189.0" width="1.25" height="6.8" fill="#26a69a" opacity="0.92"/>
<rect x="185.96" y="171.0" width="1.25" height="17.9" fill="#ef5350" opacity="0.88"/>
<rect x="186.79" y="176.1" width="1.25" height="17.9" fill="#26a69a" opacity="0.88"/>
<rect x="186.55" y="175.6" width="0.90" height="13.8" fill="#6f7478" opacity="0.60"/>
<rect x="186.96" y="188.0" width="1.25" height="9.3" fill="#ef5350" opacity="0.92"/>
<rect x="187.79" y="194.0" width="1.25" height="9.0" fill="#ef5350" opacity="0.92"/>
<rect x="187.96" y="163.4" width="1.25" height="18.6" fill="#26a69a" opacity="0.92"/>
<rect x="188.79" y="151.0" width="1.25" height="19.2" fill="#26a69a" opacity="0.92"/>
<rect x="189.36" y="138.0" width="1.25" height="15.0" fill="#26a69a" opacity="0.92"/>
<rect x="190.19" y="128.0" width="1.25" height="15.5" fill="#26a69a" opacity="0.92"/>
<rect x="190.36" y="129.2" width="1.25" height="10.8" fill="#26a69a" opacity="0.92"/>
<rect x="191.19" y="122.0" width="1.25" height="11.2" fill="#26a69a" opacity="0.92"/>
<rect x="191.36" y="108.0" width="1.25" height="23.4" fill="#ef5350" opacity="0.88"/>
<rect x="192.19" y="114.6" width="1.25" height="23.4" fill="#26a69a" opacity="0.88"/>
<rect x="191.95" y="114.0" width="0.90" height="18.0" fill="#6f7478" opacity="0.60"/>
<rect x="192.46" y="112.8" width="1.25" height="13.2" fill="#26a69a" opacity="0.92"/>
<rect x="193.29" y="104.0" width="1.25" height="13.6" fill="#26a69a" opacity="0.92"/>
<rect x="193.76" y="112.2" width="1.25" height="14.8" fill="#26a69a" opacity="0.88"/>
<rect x="194.59" y="108.0" width="1.25" height="14.8" fill="#ef5350" opacity="0.88"/>
<rect x="194.35" y="111.8" width="0.90" height="11.4" fill="#6f7478" opacity="0.60"/>
<rect x="194.96" y="114.0" width="1.25" height="34.3" fill="#ef5350" opacity="0.88"/>
<rect x="195.79" y="123.7" width="1.25" height="34.3" fill="#26a69a" opacity="0.88"/>
<rect x="195.55" y="122.8" width="0.90" height="26.4" fill="#6f7478" opacity="0.60"/>
<rect x="195.96" y="144.8" width="1.25" height="13.2" fill="#26a69a" opacity="0.92"/>
<rect x="196.79" y="136.0" width="1.25" height="13.6" fill="#26a69a" opacity="0.92"/>
<rect x="197.26" y="140.0" width="1.25" height="12.4" fill="#ef5350" opacity="0.92"/>
<rect x="198.09" y="148.0" width="1.25" height="12.0" fill="#ef5350" opacity="0.92"/>
<rect x="198.26" y="128.0" width="1.25" height="11.2" fill="#ef5350" opacity="0.92"/>
<rect x="199.09" y="135.2" width="1.25" height="10.8" fill="#ef5350" opacity="0.92"/>
<rect x="199.46" y="128.0" width="1.25" height="14.0" fill="#ef5350" opacity="0.88"/>
<rect x="200.29" y="132.0" width="1.25" height="14.0" fill="#26a69a" opacity="0.88"/>
<rect x="200.05" y="131.6" width="0.90" height="10.8" fill="#6f7478" opacity="0.60"/>
<rect x="200.66" y="135.2" width="1.25" height="10.8" fill="#26a69a" opacity="0.92"/>
<rect x="201.49" y="128.0" width="1.25" height="11.2" fill="#26a69a" opacity="0.92"/>
<rect x="201.96" y="142.4" width="1.25" height="15.6" fill="#26a69a" opacity="0.88"/>
<rect x="202.79" y="138.0" width="1.25" height="15.6" fill="#ef5350" opacity="0.88"/>
<rect x="202.55" y="142.0" width="0.90" height="12.0" fill="#6f7478" opacity="0.60"/>
<rect x="203.16" y="131.8" width="1.25" height="10.2" fill="#26a69a" opacity="0.92"/>
<rect x="203.99" y="125.0" width="1.25" height="10.5" fill="#26a69a" opacity="0.92"/>
<rect x="203.96" y="120.0" width="1.25" height="13.3" fill="#ef5350" opacity="0.88"/>
<rect x="204.79" y="123.7" width="1.25" height="13.3" fill="#26a69a" opacity="0.88"/>
<rect x="204.55" y="123.4" width="0.90" height="10.2" fill="#6f7478" opacity="0.60"/>
<rect x="204.96" y="123.0" width="1.25" height="11.8" fill="#ef5350" opacity="0.92"/>
<rect x="205.79" y="130.6" width="1.25" height="11.4" fill="#ef5350" opacity="0.92"/>
<rect x="206.36" y="142.0" width="1.25" height="15.5" fill="#ef5350" opacity="0.92"/>
<rect x="207.19" y="152.0" width="1.25" height="15.0" fill="#ef5350" opacity="0.92"/>
<rect x="207.46" y="155.4" width="1.25" height="12.6" fill="#26a69a" opacity="0.92"/>
<rect x="208.29" y="147.0" width="1.25" height="13.0" fill="#26a69a" opacity="0.92"/>
<rect x="208.46" y="137.6" width="1.25" height="11.4" fill="#26a69a" opacity="0.92"/>
<rect x="209.29" y="130.0" width="1.25" height="11.8" fill="#26a69a" opacity="0.92"/>
<rect x="209.36" y="120.8" width="1.25" height="13.2" fill="#26a69a" opacity="0.92"/>
<rect x="210.19" y="112.0" width="1.25" height="13.6" fill="#26a69a" opacity="0.92"/>
<rect x="210.96" y="107.0" width="1.25" height="17.2" fill="#ef5350" opacity="0.88"/>
<rect x="211.79" y="111.8" width="1.25" height="17.2" fill="#26a69a" opacity="0.88"/>
<rect x="211.55" y="111.4" width="0.90" height="13.2" fill="#6f7478" opacity="0.60"/>
<rect x="212.46" y="93.8" width="1.25" height="13.2" fill="#26a69a" opacity="0.92"/>
<rect x="213.29" y="85.0" width="1.25" height="13.6" fill="#26a69a" opacity="0.92"/>
<rect x="213.96" y="77.8" width="1.25" height="10.2" fill="#26a69a" opacity="0.92"/>
<rect x="214.79" y="71.0" width="1.25" height="10.5" fill="#26a69a" opacity="0.92"/>
<rect x="215.36" y="63.8" width="1.25" height="10.2" fill="#26a69a" opacity="0.92"/>
<rect x="216.19" y="57.0" width="1.25" height="10.5" fill="#26a69a" opacity="0.92"/>
<rect x="217.10" y="50.0" width="0.80" height="32.0" fill="#ef5350" opacity="0.85"/>
<rect x="216.96" y="66.4" width="1.25" height="15.6" fill="#26a69a" opacity="0.88"/>
<rect x="217.79" y="62.0" width="1.25" height="15.6" fill="#ef5350" opacity="0.88"/>
<rect x="217.55" y="66.0" width="0.90" height="12.0" fill="#6f7478" opacity="0.60"/>
<rect x="218.16" y="62.5" width="1.25" height="19.5" fill="#26a69a" opacity="0.88"/>
<rect x="218.99" y="57.0" width="1.25" height="19.5" fill="#ef5350" opacity="0.88"/>
<rect x="218.75" y="62.0" width="0.90" height="15.0" fill="#6f7478" opacity="0.60"/>
<rect x="219.46" y="56.0" width="1.25" height="17.2" fill="#ef5350" opacity="0.88"/>
<rect x="220.29" y="60.8" width="1.25" height="17.2" fill="#26a69a" opacity="0.88"/>
<rect x="220.05" y="60.4" width="0.90" height="13.2" fill="#6f7478" opacity="0.60"/>
<rect x="220.96" y="76.0" width="1.25" height="10.5" fill="#ef5350" opacity="0.92"/>
<rect x="221.79" y="82.8" width="1.25" height="10.2" fill="#ef5350" opacity="0.92"/>
<rect x="222.16" y="76.0" width="1.25" height="13.6" fill="#ef5350" opacity="0.92"/>
<rect x="222.99" y="84.8" width="1.25" height="13.2" fill="#ef5350" opacity="0.92"/>
<rect x="223.46" y="95.0" width="1.25" height="11.2" fill="#ef5350" opacity="0.50"/>
<rect x="224.29" y="102.2" width="1.25" height="10.8" fill="#ef5350" opacity="0.50"/>
<rect x="224.46" y="109.3" width="1.25" height="18.7" fill="#26a69a" opacity="0.88"/>
<rect x="225.29" y="104.0" width="1.25" height="18.7" fill="#ef5350" opacity="0.88"/>
<rect x="225.05" y="108.8" width="0.90" height="14.4" fill="#6f7478" opacity="0.60"/>
<rect x="225.36" y="124.4" width="1.25" height="9.6" fill="#26a69a" opacity="0.92"/>
<rect x="226.19" y="118.0" width="1.25" height="9.9" fill="#26a69a" opacity="0.92"/>
<rect x="226.46" y="115.4" width="1.25" height="9.6" fill="#26a69a" opacity="0.92"/>
<rect x="227.29" y="109.0" width="1.25" height="9.9" fill="#26a69a" opacity="0.92"/>
<rect x="227.96" y="101.0" width="1.25" height="9.3" fill="#ef5350" opacity="0.92"/>
<rect x="228.79" y="107.0" width="1.25" height="9.0" fill="#ef5350" opacity="0.92"/>
<rect x="229.46" y="113.5" width="1.25" height="12.5" fill="#26a69a" opacity="0.88"/>
<rect x="230.29" y="110.0" width="1.25" height="12.5" fill="#ef5350" opacity="0.88"/>
<rect x="230.05" y="113.2" width="0.90" height="9.6" fill="#6f7478" opacity="0.60"/>
<rect x="230.96" y="104.0" width="1.25" height="12.4" fill="#ef5350" opacity="0.92"/>
<rect x="231.79" y="112.0" width="1.25" height="12.0" fill="#ef5350" opacity="0.92"/>
<rect x="231.96" y="122.0" width="1.25" height="17.4" fill="#ef5350" opacity="0.92"/>
<rect x="232.79" y="133.2" width="1.25" height="16.8" fill="#ef5350" opacity="0.92"/>
<rect x="232.96" y="153.3" width="1.25" height="18.7" fill="#26a69a" opacity="0.88"/>
<rect x="233.79" y="148.0" width="1.25" height="18.7" fill="#ef5350" opacity="0.88"/>
<rect x="233.55" y="152.8" width="0.90" height="14.4" fill="#6f7478" opacity="0.60"/>
<rect x="234.20" y="160.0" width="0.80" height="20.0" fill="#26a69a" opacity="0.85"/>
<rect x="234.56" y="159.7" width="1.25" height="13.3" fill="#26a69a" opacity="0.88"/>
<rect x="235.39" y="156.0" width="1.25" height="13.3" fill="#ef5350" opacity="0.88"/>
<rect x="235.15" y="159.4" width="0.90" height="10.2" fill="#6f7478" opacity="0.60"/>
<rect x="235.96" y="142.0" width="1.25" height="14.0" fill="#ef5350" opacity="0.88"/>
<rect x="236.79" y="146.0" width="1.25" height="14.0" fill="#26a69a" opacity="0.88"/>
<rect x="236.55" y="145.6" width="0.90" height="10.8" fill="#6f7478" opacity="0.60"/>
<rect x="237.36" y="161.1" width="1.25" height="10.9" fill="#26a69a" opacity="0.88"/>
<rect x="238.19" y="158.0" width="1.25" height="10.9" fill="#ef5350" opacity="0.88"/>
<rect x="237.95" y="160.8" width="0.90" height="8.4" fill="#6f7478" opacity="0.60"/>
<rect x="238.36" y="171.0" width="1.25" height="8.1" fill="#ef5350" opacity="0.92"/>
<rect x="239.19" y="176.2" width="1.25" height="7.8" fill="#ef5350" opacity="0.92"/>
<rect x="239.16" y="183.0" width="1.25" height="16.1" fill="#ef5350" opacity="0.92"/>
<rect x="239.99" y="193.4" width="1.25" height="15.6" fill="#ef5350" opacity="0.92"/>
<rect x="240.16" y="207.0" width="1.25" height="9.3" fill="#ef5350" opacity="0.92"/>
<rect x="240.99" y="213.0" width="1.25" height="9.0" fill="#ef5350" opacity="0.92"/>
<rect x="241.36" y="211.0" width="1.25" height="11.7" fill="#ef5350" opacity="0.88"/>
<rect x="242.19" y="214.3" width="1.25" height="11.7" fill="#26a69a" opacity="0.88"/>
<rect x="241.95" y="214.0" width="0.90" height="9.0" fill="#6f7478" opacity="0.60"/>
<rect x="242.96" y="223.0" width="1.25" height="15.6" fill="#ef5350" opacity="0.88"/>
<rect x="243.79" y="227.4" width="1.25" height="15.6" fill="#26a69a" opacity="0.88"/>
<rect x="243.55" y="227.0" width="0.90" height="12.0" fill="#6f7478" opacity="0.60"/>
<rect x="244.36" y="227.0" width="1.25" height="8.1" fill="#ef5350" opacity="0.92"/>
<rect x="245.19" y="232.2" width="1.25" height="7.8" fill="#ef5350" opacity="0.92"/>
<rect x="245.46" y="237.0" width="1.25" height="26.7" fill="#ef5350" opacity="0.92"/>
<rect x="246.29" y="254.2" width="1.25" height="25.8" fill="#ef5350" opacity="0.92"/>
<rect x="246.96" y="278.7" width="1.25" height="13.3" fill="#26a69a" opacity="0.88"/>
<rect x="247.79" y="275.0" width="1.25" height="13.3" fill="#ef5350" opacity="0.88"/>
<rect x="247.55" y="278.4" width="0.90" height="10.2" fill="#6f7478" opacity="0.60"/>
<rect x="248.36" y="290.0" width="1.25" height="7.4" fill="#ef5350" opacity="0.92"/>
<rect x="249.19" y="294.8" width="1.25" height="7.2" fill="#ef5350" opacity="0.92"/>
<rect x="249.46" y="300.0" width="1.25" height="13.6" fill="#ef5350" opacity="0.92"/>
<rect x="250.29" y="308.8" width="1.25" height="13.2" fill="#ef5350" opacity="0.92"/>
<rect x="250.96" y="302.0" width="1.25" height="26.5" fill="#ef5350" opacity="0.88"/>
<rect x="251.79" y="309.5" width="1.25" height="26.5" fill="#26a69a" opacity="0.88"/>
<rect x="251.55" y="308.8" width="0.90" height="20.4" fill="#6f7478" opacity="0.60"/>
<rect x="251.96" y="308.0" width="1.25" height="17.2" fill="#ef5350" opacity="0.88"/>
<rect x="252.79" y="312.8" width="1.25" height="17.2" fill="#26a69a" opacity="0.88"/>
<rect x="252.55" y="312.4" width="0.90" height="13.2" fill="#6f7478" opacity="0.60"/>
<rect x="252.96" y="304.8" width="1.25" height="7.2" fill="#26a69a" opacity="0.92"/>
<rect x="253.79" y="300.0" width="1.25" height="7.4" fill="#26a69a" opacity="0.92"/>
<rect x="254.16" y="298.4" width="1.25" height="9.6" fill="#26a69a" opacity="0.92"/>
<rect x="254.99" y="292.0" width="1.25" height="9.9" fill="#26a69a" opacity="0.92"/>
<rect x="255.26" y="288.8" width="1.25" height="7.2" fill="#26a69a" opacity="0.92"/>
<rect x="256.10" y="284.0" width="1.25" height="7.4" fill="#26a69a" opacity="0.92"/>
<rect x="256.56" y="272.0" width="1.25" height="11.7" fill="#ef5350" opacity="0.88"/>
<rect x="257.40" y="275.3" width="1.25" height="11.7" fill="#26a69a" opacity="0.88"/>
<rect x="257.15" y="275.0" width="0.90" height="9.0" fill="#6f7478" opacity="0.60"/>
<rect x="257.95" y="266.6" width="1.25" height="9.4" fill="#26a69a" opacity="0.88"/>
<rect x="258.80" y="264.0" width="1.25" height="9.4" fill="#ef5350" opacity="0.88"/>
<rect x="258.55" y="266.4" width="0.90" height="7.2" fill="#6f7478" opacity="0.60"/>
<rect x="258.95" y="264.0" width="1.25" height="6.0" fill="#26a69a" opacity="0.92"/>
<rect x="259.80" y="260.0" width="1.25" height="6.2" fill="#26a69a" opacity="0.92"/>
<rect x="259.95" y="263.0" width="1.25" height="10.5" fill="#ef5350" opacity="0.50"/>
<rect x="260.80" y="269.8" width="1.25" height="10.2" fill="#ef5350" opacity="0.50"/>
<rect x="260.95" y="282.2" width="1.25" height="14.8" fill="#26a69a" opacity="0.88"/>
<rect x="261.80" y="278.0" width="1.25" height="14.8" fill="#ef5350" opacity="0.88"/>
<rect x="261.55" y="281.8" width="0.90" height="11.4" fill="#6f7478" opacity="0.60"/>
<rect x="262.45" y="295.0" width="1.25" height="8.7" fill="#ef5350" opacity="0.92"/>
<rect x="263.30" y="300.6" width="1.25" height="8.4" fill="#ef5350" opacity="0.92"/>
<rect x="263.25" y="306.0" width="1.25" height="9.9" fill="#ef5350" opacity="0.92"/>
<rect x="264.10" y="312.4" width="1.25" height="9.6" fill="#ef5350" opacity="0.92"/>
<rect x="264.45" y="309.6" width="1.25" height="8.4" fill="#26a69a" opacity="0.92"/>
<rect x="265.30" y="304.0" width="1.25" height="8.7" fill="#26a69a" opacity="0.92"/>
<rect x="265.90" y="287.0" width="0.80" height="44.0" fill="#26a69a" opacity="0.85"/>
<rect x="266.25" y="284.0" width="1.25" height="16.1" fill="#ef5350" opacity="0.92"/>
<rect x="267.10" y="294.4" width="1.25" height="15.6" fill="#ef5350" opacity="0.92"/>
<rect x="267.15" y="320.0" width="1.25" height="19.2" fill="#ef5350" opacity="0.92"/>
<rect x="268.00" y="332.4" width="1.25" height="18.6" fill="#ef5350" opacity="0.92"/>
<rect x="268.45" y="335.0" width="1.25" height="36.0" fill="#ef5350" opacity="0.92"/>
<rect x="269.30" y="358.2" width="1.25" height="34.8" fill="#ef5350" opacity="0.92"/>
<rect x="269.35" y="360.0" width="1.25" height="22.3" fill="#ef5350" opacity="0.92"/>
<rect x="270.19" y="374.4" width="1.25" height="21.6" fill="#ef5350" opacity="0.92"/>
<rect x="270.15" y="377.6" width="1.25" height="23.4" fill="#26a69a" opacity="0.88"/>
<rect x="271.00" y="371.0" width="1.25" height="23.4" fill="#ef5350" opacity="0.88"/>
<rect x="270.75" y="377.0" width="0.90" height="18.0" fill="#6f7478" opacity="0.60"/>
<rect x="271.00" y="398.0" width="0.80" height="10.0" fill="#26a69a" opacity="0.85"/>
<rect x="271.95" y="375.8" width="1.25" height="17.2" fill="#26a69a" opacity="0.88"/>
<rect x="272.80" y="371.0" width="1.25" height="17.2" fill="#ef5350" opacity="0.88"/>
<rect x="272.55" y="375.4" width="0.90" height="13.2" fill="#6f7478" opacity="0.60"/>
<rect x="273.35" y="356.0" width="1.25" height="24.0" fill="#26a69a" opacity="0.92"/>
<rect x="274.19" y="340.0" width="1.25" height="24.8" fill="#26a69a" opacity="0.92"/>
<rect x="274.95" y="341.0" width="1.25" height="12.5" fill="#ef5350" opacity="0.88"/>
<rect x="275.80" y="344.5" width="1.25" height="12.5" fill="#26a69a" opacity="0.88"/>
<rect x="275.55" y="344.2" width="0.90" height="9.6" fill="#6f7478" opacity="0.60"/>
<rect x="276.45" y="337.2" width="1.25" height="14.8" fill="#26a69a" opacity="0.88"/>
<rect x="277.30" y="333.0" width="1.25" height="14.8" fill="#ef5350" opacity="0.88"/>
<rect x="277.05" y="336.8" width="0.90" height="11.4" fill="#6f7478" opacity="0.60"/>
<rect x="277.95" y="317.3" width="1.25" height="18.7" fill="#26a69a" opacity="0.88"/>
<rect x="278.80" y="312.0" width="1.25" height="18.7" fill="#ef5350" opacity="0.88"/>
<rect x="278.55" y="316.8" width="0.90" height="14.4" fill="#6f7478" opacity="0.60"/>
<rect x="279.45" y="316.2" width="1.25" height="10.8" fill="#26a69a" opacity="0.92"/>
<rect x="280.30" y="309.0" width="1.25" height="11.2" fill="#26a69a" opacity="0.92"/>
<rect x="280.95" y="298.0" width="1.25" height="9.3" fill="#ef5350" opacity="0.92"/>
<rect x="281.80" y="304.0" width="1.25" height="9.0" fill="#ef5350" opacity="0.92"/>
<rect x="282.35" y="305.0" width="1.25" height="10.5" fill="#ef5350" opacity="0.92"/>
<rect x="283.19" y="311.8" width="1.25" height="10.2" fill="#ef5350" opacity="0.92"/>
<rect x="283.95" y="315.4" width="1.25" height="15.6" fill="#26a69a" opacity="0.88"/>
<rect x="284.80" y="311.0" width="1.25" height="15.6" fill="#ef5350" opacity="0.88"/>
<rect x="284.55" y="315.0" width="0.90" height="12.0" fill="#6f7478" opacity="0.60"/>
<rect x="285.45" y="299.0" width="1.25" height="21.8" fill="#ef5350" opacity="0.88"/>
<rect x="286.30" y="305.2" width="1.25" height="21.8" fill="#26a69a" opacity="0.88"/>
<rect x="286.05" y="304.6" width="0.90" height="16.8" fill="#6f7478" opacity="0.60"/>
<rect x="287.20" y="296.0" width="0.80" height="31.0" fill="#26a69a" opacity="0.85"/>
<rect x="287.56" y="293.6" width="1.25" height="8.4" fill="#26a69a" opacity="0.92"/>
<rect x="288.40" y="288.0" width="1.25" height="8.7" fill="#26a69a" opacity="0.92"/>
<rect x="288.75" y="269.6" width="1.25" height="20.4" fill="#26a69a" opacity="0.92"/>
<rect x="289.60" y="256.0" width="1.25" height="21.1" fill="#26a69a" opacity="0.92"/>
<rect x="289.75" y="248.4" width="1.25" height="9.6" fill="#26a69a" opacity="0.92"/>
<rect x="290.60" y="242.0" width="1.25" height="9.9" fill="#26a69a" opacity="0.92"/>
<rect x="290.75" y="235.2" width="1.25" height="14.8" fill="#26a69a" opacity="0.88"/>
<rect x="291.60" y="231.0" width="1.25" height="14.8" fill="#ef5350" opacity="0.88"/>
<rect x="291.35" y="234.8" width="0.90" height="11.4" fill="#6f7478" opacity="0.60"/>
<rect x="292.35" y="232.0" width="1.25" height="10.5" fill="#ef5350" opacity="0.92"/>
<rect x="293.19" y="238.8" width="1.25" height="10.2" fill="#ef5350" opacity="0.92"/>
<rect x="293.45" y="248.0" width="1.25" height="17.4" fill="#ef5350" opacity="0.92"/>
<rect x="294.30" y="259.2" width="1.25" height="16.8" fill="#ef5350" opacity="0.92"/>
<rect x="294.95" y="263.5" width="1.25" height="12.5" fill="#26a69a" opacity="0.88"/>
<rect x="295.80" y="260.0" width="1.25" height="12.5" fill="#ef5350" opacity="0.88"/>
<rect x="295.55" y="263.2" width="0.90" height="9.6" fill="#6f7478" opacity="0.60"/>
<rect x="295.95" y="272.0" width="1.25" height="6.8" fill="#ef5350" opacity="0.92"/>
<rect x="296.80" y="276.4" width="1.25" height="6.6" fill="#ef5350" opacity="0.92"/>
<rect x="297.45" y="260.0" width="1.25" height="10.9" fill="#ef5350" opacity="0.88"/>
<rect x="298.30" y="263.1" width="1.25" height="10.9" fill="#26a69a" opacity="0.88"/>
<rect x="298.05" y="262.8" width="0.90" height="8.4" fill="#6f7478" opacity="0.60"/>
<rect x="298.95" y="255.0" width="1.25" height="9.0" fill="#26a69a" opacity="0.92"/>
<rect x="299.80" y="249.0" width="1.25" height="9.3" fill="#26a69a" opacity="0.92"/>
<rect x="300.25" y="254.0" width="1.25" height="14.0" fill="#26a69a" opacity="0.88"/>
<rect x="301.10" y="250.0" width="1.25" height="14.0" fill="#ef5350" opacity="0.88"/>
<rect x="300.85" y="253.6" width="0.90" height="10.8" fill="#6f7478" opacity="0.60"/>
<rect x="301.45" y="263.0" width="1.25" height="14.0" fill="#ef5350" opacity="0.88"/>
<rect x="302.30" y="267.0" width="1.25" height="14.0" fill="#26a69a" opacity="0.88"/>
<rect x="302.05" y="266.6" width="0.90" height="10.8" fill="#6f7478" opacity="0.60"/>
<rect x="302.95" y="249.4" width="1.25" height="12.6" fill="#26a69a" opacity="0.92"/>
<rect x="303.80" y="241.0" width="1.25" height="13.0" fill="#26a69a" opacity="0.92"/>
<rect x="304.15" y="237.1" width="1.25" height="10.9" fill="#26a69a" opacity="0.88"/>
<rect x="305.00" y="234.0" width="1.25" height="10.9" fill="#ef5350" opacity="0.88"/>
<rect x="304.75" y="236.8" width="0.90" height="8.4" fill="#6f7478" opacity="0.60"/>
<rect x="305.35" y="246.0" width="1.25" height="24.2" fill="#ef5350" opacity="0.92"/>
<rect x="306.19" y="261.6" width="1.25" height="23.4" fill="#ef5350" opacity="0.92"/>
<rect x="306.60" y="255.0" width="0.80" height="37.0" fill="#26a69a" opacity="0.85"/>
<rect x="307.56" y="241.7" width="1.25" height="13.3" fill="#26a69a" opacity="0.88"/>
<rect x="308.40" y="238.0" width="1.25" height="13.3" fill="#ef5350" opacity="0.88"/>
<rect x="308.15" y="241.4" width="0.90" height="10.2" fill="#6f7478" opacity="0.60"/>
<rect x="309.45" y="244.7" width="1.25" height="27.3" fill="#26a69a" opacity="0.88"/>
<rect x="310.30" y="237.0" width="1.25" height="27.3" fill="#ef5350" opacity="0.88"/>
<rect x="310.05" y="244.0" width="0.90" height="21.0" fill="#6f7478" opacity="0.60"/>
<rect x="311.45" y="234.5" width="1.25" height="12.5" fill="#26a69a" opacity="0.88"/>
<rect x="312.30" y="231.0" width="1.25" height="12.5" fill="#ef5350" opacity="0.88"/>
<rect x="312.05" y="234.2" width="0.90" height="9.6" fill="#6f7478" opacity="0.60"/>
<rect x="312.95" y="247.0" width="1.25" height="18.0" fill="#ef5350" opacity="0.92"/>
<rect x="313.80" y="258.6" width="1.25" height="17.4" fill="#ef5350" opacity="0.92"/>
<rect x="314.35" y="274.0" width="1.25" height="5.0" fill="#ef5350" opacity="0.92"/>
<rect x="315.19" y="277.2" width="1.25" height="4.8" fill="#ef5350" opacity="0.92"/>
<rect x="315.45" y="280.0" width="1.25" height="11.8" fill="#ef5350" opacity="0.92"/>
<rect x="316.30" y="287.6" width="1.25" height="11.4" fill="#ef5350" opacity="0.92"/>
<rect x="316.56" y="297.0" width="1.25" height="5.6" fill="#ef5350" opacity="0.92"/>
<rect x="317.40" y="300.6" width="1.25" height="5.4" fill="#ef5350" opacity="0.92"/>
<rect x="317.56" y="304.0" width="1.25" height="11.2" fill="#ef5350" opacity="0.92"/>
<rect x="318.40" y="311.2" width="1.25" height="10.8" fill="#ef5350" opacity="0.92"/>
<rect x="318.95" y="320.0" width="1.25" height="18.0" fill="#ef5350" opacity="0.50"/>
<rect x="319.80" y="331.6" width="1.25" height="17.4" fill="#ef5350" opacity="0.50"/>
<rect x="320.35" y="300.0" width="1.25" height="29.6" fill="#ef5350" opacity="0.88"/>
<rect x="321.19" y="308.4" width="1.25" height="29.6" fill="#26a69a" opacity="0.88"/>
<rect x="320.95" y="307.6" width="0.90" height="22.8" fill="#6f7478" opacity="0.60"/>
<rect x="321.95" y="324.8" width="1.25" height="22.2" fill="#26a69a" opacity="0.92"/>
<rect x="322.80" y="310.0" width="1.25" height="22.9" fill="#26a69a" opacity="0.92"/>
<rect x="323.95" y="319.0" width="1.25" height="17.2" fill="#ef5350" opacity="0.88"/>
<rect x="324.80" y="323.8" width="1.25" height="17.2" fill="#26a69a" opacity="0.88"/>
<rect x="324.55" y="323.4" width="0.90" height="13.2" fill="#6f7478" opacity="0.60"/>
<rect x="325.45" y="336.3" width="1.25" height="18.7" fill="#26a69a" opacity="0.88"/>
<rect x="326.30" y="331.0" width="1.25" height="18.7" fill="#ef5350" opacity="0.88"/>
<rect x="326.05" y="335.8" width="0.90" height="14.4" fill="#6f7478" opacity="0.60"/>
<rect x="326.95" y="342.0" width="1.25" height="17.2" fill="#ef5350" opacity="0.88"/>
<rect x="327.80" y="346.8" width="1.25" height="17.2" fill="#26a69a" opacity="0.88"/>
<rect x="327.55" y="346.4" width="0.90" height="13.2" fill="#6f7478" opacity="0.60"/>
<rect x="328.35" y="346.0" width="1.25" height="14.0" fill="#ef5350" opacity="0.88"/>
<rect x="329.19" y="350.0" width="1.25" height="14.0" fill="#26a69a" opacity="0.88"/>
<rect x="328.95" y="349.6" width="0.90" height="10.8" fill="#6f7478" opacity="0.60"/>
<rect x="329.45" y="352.0" width="1.25" height="10.5" fill="#ef5350" opacity="0.92"/>
<rect x="330.30" y="358.8" width="1.25" height="10.2" fill="#ef5350" opacity="0.92"/>
<rect x="330.45" y="322.8" width="1.25" height="19.2" fill="#26a69a" opacity="0.92"/>
<rect x="331.30" y="310.0" width="1.25" height="19.8" fill="#26a69a" opacity="0.92"/>
<rect x="331.45" y="308.0" width="1.25" height="12.0" fill="#26a69a" opacity="0.92"/>
<rect x="332.30" y="300.0" width="1.25" height="12.4" fill="#26a69a" opacity="0.92"/>
<rect x="332.25" y="301.6" width="1.25" height="8.4" fill="#26a69a" opacity="0.92"/>
<rect x="333.10" y="296.0" width="1.25" height="8.7" fill="#26a69a" opacity="0.92"/>
<rect x="333.45" y="279.0" width="1.25" height="12.4" fill="#ef5350" opacity="0.50"/>
<rect x="334.30" y="287.0" width="1.25" height="12.0" fill="#ef5350" opacity="0.50"/>
<rect x="334.56" y="291.0" width="1.25" height="11.7" fill="#ef5350" opacity="0.88"/>
<rect x="335.40" y="294.3" width="1.25" height="11.7" fill="#26a69a" opacity="0.88"/>
<rect x="335.15" y="294.0" width="0.90" height="9.0" fill="#6f7478" opacity="0.60"/>
<rect x="335.56" y="304.0" width="1.25" height="13.6" fill="#ef5350" opacity="0.92"/>
<rect x="336.40" y="312.8" width="1.25" height="13.2" fill="#ef5350" opacity="0.92"/>
<rect x="336.56" y="298.2" width="1.25" height="13.8" fill="#26a69a" opacity="0.92"/>
<rect x="337.40" y="289.0" width="1.25" height="14.3" fill="#26a69a" opacity="0.92"/>
<rect x="338.45" y="263.0" width="1.25" height="23.4" fill="#ef5350" opacity="0.88"/>
<rect x="339.30" y="269.6" width="1.25" height="23.4" fill="#26a69a" opacity="0.88"/>
<rect x="339.05" y="269.0" width="0.90" height="18.0" fill="#6f7478" opacity="0.60"/>
<rect x="339.95" y="262.8" width="1.25" height="10.2" fill="#26a69a" opacity="0.92"/>
<rect x="340.80" y="256.0" width="1.25" height="10.5" fill="#26a69a" opacity="0.92"/>
<rect x="341.35" y="245.8" width="1.25" height="13.2" fill="#26a69a" opacity="0.92"/>
<rect x="342.19" y="237.0" width="1.25" height="13.6" fill="#26a69a" opacity="0.92"/>
<rect x="342.45" y="224.4" width="1.25" height="15.6" fill="#26a69a" opacity="0.92"/>
<rect x="343.30" y="214.0" width="1.25" height="16.1" fill="#26a69a" opacity="0.92"/>
<rect x="344.45" y="212.0" width="1.25" height="33.5" fill="#ef5350" opacity="0.88"/>
<rect x="345.30" y="221.5" width="1.25" height="33.5" fill="#26a69a" opacity="0.88"/>
<rect x="345.05" y="220.6" width="0.90" height="25.8" fill="#6f7478" opacity="0.60"/>
<rect x="345.95" y="216.2" width="1.25" height="16.8" fill="#26a69a" opacity="0.92"/>
<rect x="346.80" y="205.0" width="1.25" height="17.4" fill="#26a69a" opacity="0.92"/>
<rect x="347.45" y="202.8" width="1.25" height="13.2" fill="#26a69a" opacity="0.92"/>
<rect x="348.30" y="194.0" width="1.25" height="13.6" fill="#26a69a" opacity="0.92"/>
<rect x="348.45" y="188.0" width="1.25" height="11.2" fill="#ef5350" opacity="0.92"/>
<rect x="349.30" y="195.2" width="1.25" height="10.8" fill="#ef5350" opacity="0.92"/>
<rect x="349.45" y="204.0" width="1.25" height="18.0" fill="#ef5350" opacity="0.92"/>
<rect x="350.30" y="215.6" width="1.25" height="17.4" fill="#ef5350" opacity="0.92"/>
<rect x="350.56" y="232.5" width="1.25" height="19.5" fill="#26a69a" opacity="0.88"/>
<rect x="351.40" y="227.0" width="1.25" height="19.5" fill="#ef5350" opacity="0.88"/>
<rect x="351.15" y="232.0" width="0.90" height="15.0" fill="#6f7478" opacity="0.60"/>
<rect x="352.45" y="229.0" width="1.25" height="10.9" fill="#ef5350" opacity="0.88"/>
<rect x="353.30" y="232.1" width="1.25" height="10.9" fill="#26a69a" opacity="0.88"/>
<rect x="353.05" y="231.8" width="0.90" height="8.4" fill="#6f7478" opacity="0.60"/>
<rect x="353.95" y="227.0" width="1.25" height="14.0" fill="#ef5350" opacity="0.88"/>
<rect x="354.80" y="231.0" width="1.25" height="14.0" fill="#26a69a" opacity="0.88"/>
<rect x="354.55" y="230.6" width="0.90" height="10.8" fill="#6f7478" opacity="0.60"/>
<rect x="355.45" y="244.0" width="1.25" height="14.3" fill="#ef5350" opacity="0.92"/>
<rect x="356.30" y="253.2" width="1.25" height="13.8" fill="#ef5350" opacity="0.92"/>
<rect x="356.95" y="251.0" width="1.25" height="12.4" fill="#ef5350" opacity="0.92"/>
<rect x="357.80" y="259.0" width="1.25" height="12.0" fill="#ef5350" opacity="0.92"/>
<rect x="357.95" y="271.0" width="1.25" height="18.0" fill="#ef5350" opacity="0.92"/>
<rect x="358.80" y="282.6" width="1.25" height="17.4" fill="#ef5350" opacity="0.92"/>
<rect x="359.45" y="291.0" width="1.25" height="14.8" fill="#ef5350" opacity="0.88"/>
<rect x="360.30" y="295.2" width="1.25" height="14.8" fill="#26a69a" opacity="0.88"/>
<rect x="360.05" y="294.8" width="0.90" height="11.4" fill="#6f7478" opacity="0.60"/>
<rect x="360.95" y="296.5" width="1.25" height="12.5" fill="#26a69a" opacity="0.88"/>
<rect x="361.80" y="293.0" width="1.25" height="12.5" fill="#ef5350" opacity="0.88"/>
<rect x="361.55" y="296.2" width="0.90" height="9.6" fill="#6f7478" opacity="0.60"/>
<rect x="361.95" y="284.0" width="1.25" height="18.0" fill="#26a69a" opacity="0.92"/>
<rect x="362.80" y="272.0" width="1.25" height="18.6" fill="#26a69a" opacity="0.92"/>
<rect x="362.95" y="261.4" width="1.25" height="12.6" fill="#26a69a" opacity="0.92"/>
<rect x="363.80" y="253.0" width="1.25" height="13.0" fill="#26a69a" opacity="0.92"/>
<rect x="363.95" y="236.0" width="1.25" height="14.0" fill="#ef5350" opacity="0.88"/>
<rect x="364.80" y="240.0" width="1.25" height="14.0" fill="#26a69a" opacity="0.88"/>
<rect x="364.55" y="239.6" width="0.90" height="10.8" fill="#6f7478" opacity="0.60"/>
<rect x="365.35" y="236.0" width="1.25" height="12.5" fill="#ef5350" opacity="0.88"/>
<rect x="366.19" y="239.5" width="1.25" height="12.5" fill="#26a69a" opacity="0.88"/>
<rect x="365.95" y="239.2" width="0.90" height="9.6" fill="#6f7478" opacity="0.60"/>
<rect x="366.56" y="238.6" width="1.25" height="16.4" fill="#26a69a" opacity="0.88"/>
<rect x="367.40" y="234.0" width="1.25" height="16.4" fill="#ef5350" opacity="0.88"/>
<rect x="367.15" y="238.2" width="0.90" height="12.6" fill="#6f7478" opacity="0.60"/>
<rect x="367.95" y="239.2" width="1.25" height="10.8" fill="#26a69a" opacity="0.92"/>
<rect x="368.80" y="232.0" width="1.25" height="11.2" fill="#26a69a" opacity="0.92"/>
<rect x="369.25" y="214.0" width="1.25" height="11.8" fill="#ef5350" opacity="0.92"/>
<rect x="370.10" y="221.6" width="1.25" height="11.4" fill="#ef5350" opacity="0.92"/>
<rect x="370.45" y="241.0" width="1.25" height="18.6" fill="#ef5350" opacity="0.92"/>
<rect x="371.30" y="253.0" width="1.25" height="18.0" fill="#ef5350" opacity="0.92"/>
<rect x="372.10" y="256.0" width="0.80" height="15.0" fill="#26a69a" opacity="0.85"/>
<rect x="372.56" y="236.6" width="1.25" height="23.4" fill="#26a69a" opacity="0.88"/>
<rect x="373.40" y="230.0" width="1.25" height="23.4" fill="#ef5350" opacity="0.88"/>
<rect x="373.15" y="236.0" width="0.90" height="18.0" fill="#6f7478" opacity="0.60"/>
<rect x="373.95" y="242.1" width="1.25" height="17.9" fill="#26a69a" opacity="0.88"/>
<rect x="374.80" y="237.0" width="1.25" height="17.9" fill="#ef5350" opacity="0.88"/>
<rect x="374.55" y="241.6" width="0.90" height="13.8" fill="#6f7478" opacity="0.60"/>
<rect x="375.60" y="245.0" width="0.80" height="22.0" fill="#26a69a" opacity="0.85"/>
<rect x="376.45" y="239.6" width="1.25" height="14.4" fill="#26a69a" opacity="0.92"/>
<rect x="377.30" y="230.0" width="1.25" height="14.9" fill="#26a69a" opacity="0.92"/>
<rect x="377.56" y="219.2" width="1.25" height="13.8" fill="#26a69a" opacity="0.92"/>
<rect x="378.40" y="210.0" width="1.25" height="14.3" fill="#26a69a" opacity="0.92"/>
<rect x="378.65" y="215.3" width="1.25" height="36.7" fill="#26a69a" opacity="0.88"/>
<rect x="379.50" y="205.0" width="1.25" height="36.7" fill="#ef5350" opacity="0.88"/>
<rect x="379.25" y="214.4" width="0.90" height="28.2" fill="#6f7478" opacity="0.60"/>
<rect x="380.45" y="208.0" width="1.25" height="19.5" fill="#ef5350" opacity="0.88"/>
<rect x="381.30" y="213.5" width="1.25" height="19.5" fill="#26a69a" opacity="0.88"/>
<rect x="381.05" y="213.0" width="0.90" height="15.0" fill="#6f7478" opacity="0.60"/>
<rect x="381.56" y="206.4" width="1.25" height="9.6" fill="#26a69a" opacity="0.92"/>
<rect x="382.40" y="200.0" width="1.25" height="9.9" fill="#26a69a" opacity="0.92"/>
<rect x="382.15" y="232.0" width="1.25" height="7.4" fill="#ef5350" opacity="0.50"/>
<rect x="383.00" y="236.8" width="1.25" height="7.2" fill="#ef5350" opacity="0.50"/>
<rect x="383.56" y="206.0" width="1.25" height="14.0" fill="#ef5350" opacity="0.88"/>
<rect x="384.40" y="210.0" width="1.25" height="14.0" fill="#26a69a" opacity="0.88"/>
<rect x="384.15" y="209.6" width="0.90" height="10.8" fill="#6f7478" opacity="0.60"/>
<rect x="384.95" y="202.8" width="1.25" height="13.2" fill="#26a69a" opacity="0.92"/>
<rect x="385.80" y="194.0" width="1.25" height="13.6" fill="#26a69a" opacity="0.92"/>
<rect x="385.95" y="184.6" width="1.25" height="11.4" fill="#26a69a" opacity="0.92"/>
<rect x="386.80" y="177.0" width="1.25" height="11.8" fill="#26a69a" opacity="0.92"/>
<rect x="386.95" y="167.0" width="1.25" height="12.0" fill="#26a69a" opacity="0.92"/>
<rect x="387.80" y="159.0" width="1.25" height="12.4" fill="#26a69a" opacity="0.92"/>
<rect x="388.35" y="135.0" width="1.25" height="21.1" fill="#ef5350" opacity="0.88"/>
<rect x="389.19" y="140.9" width="1.25" height="21.1" fill="#26a69a" opacity="0.88"/>
<rect x="388.95" y="140.4" width="0.90" height="16.2" fill="#6f7478" opacity="0.60"/>
<rect x="389.95" y="140.3" width="1.25" height="18.7" fill="#26a69a" opacity="0.88"/>
<rect x="390.80" y="135.0" width="1.25" height="18.7" fill="#ef5350" opacity="0.88"/>
<rect x="390.55" y="139.8" width="0.90" height="14.4" fill="#6f7478" opacity="0.60"/>
<rect x="391.45" y="142.0" width="1.25" height="18.0" fill="#ef5350" opacity="0.50"/>
<rect x="392.30" y="153.6" width="1.25" height="17.4" fill="#ef5350" opacity="0.50"/>
<rect x="392.56" y="172.4" width="1.25" height="15.6" fill="#26a69a" opacity="0.88"/>
<rect x="393.40" y="168.0" width="1.25" height="15.6" fill="#ef5350" opacity="0.88"/>
<rect x="393.15" y="172.0" width="0.90" height="12.0" fill="#6f7478" opacity="0.60"/>
<rect x="393.95" y="182.0" width="1.25" height="8.1" fill="#ef5350" opacity="0.50"/>
<rect x="394.80" y="187.2" width="1.25" height="7.8" fill="#ef5350" opacity="0.50"/>
<rect x="395.45" y="190.0" width="1.25" height="7.4" fill="#ef5350" opacity="0.50"/>
<rect x="396.30" y="194.8" width="1.25" height="7.2" fill="#ef5350" opacity="0.50"/>
<rect x="396.95" y="170.0" width="1.25" height="9.3" fill="#ef5350" opacity="0.92"/>
<rect x="397.80" y="176.0" width="1.25" height="9.0" fill="#ef5350" opacity="0.92"/>
<rect x="398.45" y="171.0" width="1.25" height="17.2" fill="#ef5350" opacity="0.88"/>
<rect x="399.30" y="175.8" width="1.25" height="17.2" fill="#26a69a" opacity="0.88"/>
<rect x="399.05" y="175.4" width="0.90" height="13.2" fill="#6f7478" opacity="0.60"/>
<rect x="399.95" y="155.0" width="1.25" height="21.8" fill="#ef5350" opacity="0.88"/>
<rect x="400.80" y="161.2" width="1.25" height="21.8" fill="#26a69a" opacity="0.88"/>
<rect x="400.55" y="160.6" width="0.90" height="16.8" fill="#6f7478" opacity="0.60"/>
<rect x="401.45" y="175.0" width="1.25" height="14.0" fill="#ef5350" opacity="0.88"/>
<rect x="402.30" y="179.0" width="1.25" height="14.0" fill="#26a69a" opacity="0.88"/>
<rect x="402.05" y="178.6" width="0.90" height="10.8" fill="#6f7478" opacity="0.60"/>
<rect x="402.95" y="193.0" width="1.25" height="10.5" fill="#ef5350" opacity="0.92"/>
<rect x="403.80" y="199.8" width="1.25" height="10.2" fill="#ef5350" opacity="0.92"/>
<rect x="404.35" y="204.0" width="1.25" height="11.2" fill="#ef5350" opacity="0.92"/>
<rect x="405.19" y="211.2" width="1.25" height="10.8" fill="#ef5350" opacity="0.92"/>
<rect x="406.35" y="204.0" width="1.25" height="14.8" fill="#ef5350" opacity="0.88"/>
<rect x="407.19" y="208.2" width="1.25" height="14.8" fill="#26a69a" opacity="0.88"/>
<rect x="406.95" y="207.8" width="0.90" height="11.4" fill="#6f7478" opacity="0.60"/>
<rect x="408.35" y="190.0" width="1.25" height="14.8" fill="#ef5350" opacity="0.88"/>
<rect x="409.19" y="194.2" width="1.25" height="14.8" fill="#26a69a" opacity="0.88"/>
<rect x="408.95" y="193.8" width="0.90" height="11.4" fill="#6f7478" opacity="0.60"/>
<rect x="409.95" y="185.2" width="1.25" height="7.8" fill="#26a69a" opacity="0.92"/>
<rect x="410.80" y="180.0" width="1.25" height="8.1" fill="#26a69a" opacity="0.92"/>
<rect x="411.35" y="181.3" width="1.25" height="11.7" fill="#26a69a" opacity="0.88"/>
<rect x="412.19" y="178.0" width="1.25" height="11.7" fill="#ef5350" opacity="0.88"/>
<rect x="411.95" y="181.0" width="0.90" height="9.0" fill="#6f7478" opacity="0.60"/>
<rect x="412.45" y="192.0" width="1.25" height="8.1" fill="#ef5350" opacity="0.92"/>
<rect x="413.30" y="197.2" width="1.25" height="7.8" fill="#ef5350" opacity="0.92"/>
<rect x="413.95" y="204.0" width="1.25" height="7.4" fill="#ef5350" opacity="0.92"/>
<rect x="414.80" y="208.8" width="1.25" height="7.2" fill="#ef5350" opacity="0.92"/>
<rect x="415.45" y="194.0" width="1.25" height="23.4" fill="#ef5350" opacity="0.88"/>
<rect x="416.30" y="200.6" width="1.25" height="23.4" fill="#26a69a" opacity="0.88"/>
<rect x="416.05" y="200.0" width="0.90" height="18.0" fill="#6f7478" opacity="0.60"/>
<rect x="416.56" y="215.0" width="1.25" height="14.3" fill="#ef5350" opacity="0.92"/>
<rect x="417.40" y="224.2" width="1.25" height="13.8" fill="#ef5350" opacity="0.92"/>
<rect x="417.95" y="205.2" width="1.25" height="16.8" fill="#26a69a" opacity="0.92"/>
<rect x="418.80" y="194.0" width="1.25" height="17.4" fill="#26a69a" opacity="0.92"/>
<rect x="419.15" y="185.4" width="1.25" height="12.6" fill="#26a69a" opacity="0.92"/>
<rect x="420.00" y="177.0" width="1.25" height="13.0" fill="#26a69a" opacity="0.92"/>
<rect x="420.45" y="168.0" width="1.25" height="12.5" fill="#ef5350" opacity="0.88"/>
<rect x="421.30" y="171.5" width="1.25" height="12.5" fill="#26a69a" opacity="0.88"/>
<rect x="421.05" y="171.2" width="0.90" height="9.6" fill="#6f7478" opacity="0.60"/>
<rect x="421.95" y="175.0" width="1.25" height="14.0" fill="#ef5350" opacity="0.88"/>
<rect x="422.80" y="179.0" width="1.25" height="14.0" fill="#26a69a" opacity="0.88"/>
<rect x="422.55" y="178.6" width="0.90" height="10.8" fill="#6f7478" opacity="0.60"/>
<rect x="422.95" y="192.0" width="1.25" height="18.0" fill="#ef5350" opacity="0.92"/>
<rect x="423.80" y="203.6" width="1.25" height="17.4" fill="#ef5350" opacity="0.92"/>
<rect x="424.95" y="201.0" width="1.25" height="13.0" fill="#ef5350" opacity="0.92"/>
<rect x="425.80" y="209.4" width="1.25" height="12.6" fill="#ef5350" opacity="0.92"/>
<rect x="426.45" y="215.0" width="1.25" height="14.9" fill="#ef5350" opacity="0.92"/>
<rect x="427.30" y="224.6" width="1.25" height="14.4" fill="#ef5350" opacity="0.92"/>
<rect x="427.95" y="205.0" width="1.25" height="15.6" fill="#ef5350" opacity="0.88"/>
<rect x="428.80" y="209.4" width="1.25" height="15.6" fill="#26a69a" opacity="0.88"/>
<rect x="428.55" y="209.0" width="0.90" height="12.0" fill="#6f7478" opacity="0.60"/>
<rect x="429.25" y="204.9" width="1.25" height="28.1" fill="#26a69a" opacity="0.88"/>
<rect x="430.10" y="197.0" width="1.25" height="28.1" fill="#ef5350" opacity="0.88"/>
<rect x="429.85" y="204.2" width="0.90" height="21.6" fill="#6f7478" opacity="0.60"/>
<rect x="430.95" y="235.0" width="1.25" height="14.9" fill="#ef5350" opacity="0.50"/>
<rect x="431.80" y="244.6" width="1.25" height="14.4" fill="#ef5350" opacity="0.50"/>
<rect x="432.45" y="239.2" width="1.25" height="10.8" fill="#26a69a" opacity="0.92"/>
<rect x="433.30" y="232.0" width="1.25" height="11.2" fill="#26a69a" opacity="0.92"/>
<rect x="433.45" y="218.4" width="1.25" height="15.6" fill="#26a69a" opacity="0.92"/>
<rect x="434.30" y="208.0" width="1.25" height="16.1" fill="#26a69a" opacity="0.92"/>
<rect x="434.56" y="204.1" width="1.25" height="17.9" fill="#26a69a" opacity="0.88"/>
<rect x="435.40" y="199.0" width="1.25" height="17.9" fill="#ef5350" opacity="0.88"/>
<rect x="435.15" y="203.6" width="0.90" height="13.8" fill="#6f7478" opacity="0.60"/>
<rect x="435.95" y="200.0" width="1.25" height="13.6" fill="#ef5350" opacity="0.92"/>
<rect x="436.80" y="208.8" width="1.25" height="13.2" fill="#ef5350" opacity="0.92"/>
<rect x="436.95" y="215.0" width="1.25" height="11.2" fill="#ef5350" opacity="0.92"/>
<rect x="437.80" y="222.2" width="1.25" height="10.8" fill="#ef5350" opacity="0.92"/>
<rect x="438.45" y="197.0" width="1.25" height="12.0" fill="#26a69a" opacity="0.92"/>
<rect x="439.30" y="189.0" width="1.25" height="12.4" fill="#26a69a" opacity="0.92"/>
<rect x="439.95" y="190.3" width="1.25" height="11.7" fill="#26a69a" opacity="0.88"/>
<rect x="440.80" y="187.0" width="1.25" height="11.7" fill="#ef5350" opacity="0.88"/>
<rect x="440.55" y="190.0" width="0.90" height="9.0" fill="#6f7478" opacity="0.60"/>
<rect x="441.20" y="200.0" width="0.80" height="22.0" fill="#ef5350" opacity="0.85"/>
<rect x="441.95" y="184.9" width="1.25" height="10.1" fill="#26a69a" opacity="0.88"/>
<rect x="442.80" y="182.0" width="1.25" height="10.1" fill="#ef5350" opacity="0.88"/>
<rect x="442.55" y="184.6" width="0.90" height="7.8" fill="#6f7478" opacity="0.60"/>
<rect x="443.95" y="184.1" width="1.25" height="17.9" fill="#26a69a" opacity="0.88"/>
<rect x="444.80" y="179.0" width="1.25" height="17.9" fill="#ef5350" opacity="0.88"/>
<rect x="444.55" y="183.6" width="0.90" height="13.8" fill="#6f7478" opacity="0.60"/>
<rect x="445.95" y="189.0" width="1.25" height="14.0" fill="#26a69a" opacity="0.88"/>
<rect x="446.80" y="185.0" width="1.25" height="14.0" fill="#ef5350" opacity="0.88"/>
<rect x="446.55" y="188.6" width="0.90" height="10.8" fill="#6f7478" opacity="0.60"/>
<rect x="447.45" y="174.8" width="1.25" height="13.2" fill="#26a69a" opacity="0.92"/>
<rect x="448.30" y="166.0" width="1.25" height="13.6" fill="#26a69a" opacity="0.92"/>
<rect x="448.95" y="160.0" width="1.25" height="9.4" fill="#ef5350" opacity="0.88"/>
<rect x="449.80" y="162.6" width="1.25" height="9.4" fill="#26a69a" opacity="0.88"/>
<rect x="449.55" y="162.4" width="0.90" height="7.2" fill="#6f7478" opacity="0.60"/>
<rect x="450.45" y="164.0" width="1.25" height="14.9" fill="#ef5350" opacity="0.92"/>
<rect x="451.30" y="173.6" width="1.25" height="14.4" fill="#ef5350" opacity="0.92"/>
<rect x="451.95" y="155.4" width="1.25" height="22.6" fill="#26a69a" opacity="0.88"/>
<rect x="452.80" y="149.0" width="1.25" height="22.6" fill="#ef5350" opacity="0.88"/>
<rect x="452.55" y="154.8" width="0.90" height="17.4" fill="#6f7478" opacity="0.60"/>
<rect x="453.95" y="162.0" width="1.25" height="14.0" fill="#26a69a" opacity="0.88"/>
<rect x="454.80" y="158.0" width="1.25" height="14.0" fill="#ef5350" opacity="0.88"/>
<rect x="454.55" y="161.6" width="0.90" height="10.8" fill="#6f7478" opacity="0.60"/>
<rect x="455.35" y="144.9" width="1.25" height="21.1" fill="#26a69a" opacity="0.88"/>
<rect x="456.19" y="139.0" width="1.25" height="21.1" fill="#ef5350" opacity="0.88"/>
<rect x="455.95" y="144.4" width="0.90" height="16.2" fill="#6f7478" opacity="0.60"/>
<rect x="456.56" y="143.0" width="1.25" height="24.2" fill="#ef5350" opacity="0.92"/>
<rect x="457.40" y="158.6" width="1.25" height="23.4" fill="#ef5350" opacity="0.92"/>
<rect x="458.35" y="132.0" width="1.25" height="15.0" fill="#26a69a" opacity="0.92"/>
<rect x="459.19" y="122.0" width="1.25" height="15.5" fill="#26a69a" opacity="0.92"/>
<rect x="459.95" y="131.0" width="1.25" height="14.0" fill="#26a69a" opacity="0.88"/>
<rect x="460.80" y="127.0" width="1.25" height="14.0" fill="#ef5350" opacity="0.88"/>
<rect x="460.55" y="130.6" width="0.90" height="10.8" fill="#6f7478" opacity="0.60"/>
<rect x="461.45" y="131.6" width="1.25" height="8.4" fill="#26a69a" opacity="0.92"/>
<rect x="462.30" y="126.0" width="1.25" height="8.7" fill="#26a69a" opacity="0.92"/>
<rect x="462.95" y="116.4" width="1.25" height="12.6" fill="#26a69a" opacity="0.92"/>
<rect x="463.80" y="108.0" width="1.25" height="13.0" fill="#26a69a" opacity="0.92"/>
<rect x="464.35" y="107.2" width="1.25" height="4.8" fill="#26a69a" opacity="0.92"/>
<rect x="465.19" y="104.0" width="1.25" height="5.0" fill="#26a69a" opacity="0.92"/>
<rect x="465.75" y="89.0" width="1.25" height="13.3" fill="#ef5350" opacity="0.88"/>
<rect x="466.60" y="92.7" width="1.25" height="13.3" fill="#26a69a" opacity="0.88"/>
<rect x="466.35" y="92.4" width="0.90" height="10.2" fill="#6f7478" opacity="0.60"/>
<rect x="467.25" y="83.4" width="1.25" height="9.6" fill="#26a69a" opacity="0.92"/>
<rect x="468.10" y="77.0" width="1.25" height="9.9" fill="#26a69a" opacity="0.92"/>
<rect x="468.75" y="78.0" width="1.25" height="22.3" fill="#ef5350" opacity="0.92"/>
<rect x="469.60" y="92.4" width="1.25" height="21.6" fill="#ef5350" opacity="0.92"/>
<rect x="469.85" y="112.0" width="1.25" height="17.4" fill="#ef5350" opacity="0.50"/>
<rect x="470.69" y="123.2" width="1.25" height="16.8" fill="#ef5350" opacity="0.50"/>
<rect x="470.85" y="138.0" width="1.25" height="11.8" fill="#ef5350" opacity="0.92"/>
<rect x="471.69" y="145.6" width="1.25" height="11.4" fill="#ef5350" opacity="0.92"/>
<rect x="471.85" y="155.0" width="1.25" height="8.1" fill="#ef5350" opacity="0.92"/>
<rect x="472.69" y="160.2" width="1.25" height="7.8" fill="#ef5350" opacity="0.92"/>
<rect x="472.56" y="160.0" width="1.25" height="10.5" fill="#ef5350" opacity="0.50"/>
<rect x="473.40" y="166.8" width="1.25" height="10.2" fill="#ef5350" opacity="0.50"/>
<rect x="474.15" y="153.0" width="1.25" height="11.7" fill="#ef5350" opacity="0.88"/>
<rect x="475.00" y="156.3" width="1.25" height="11.7" fill="#26a69a" opacity="0.88"/>
<rect x="474.75" y="156.0" width="0.90" height="9.0" fill="#6f7478" opacity="0.60"/>
<rect x="475.95" y="149.0" width="1.25" height="13.3" fill="#ef5350" opacity="0.88"/>
<rect x="476.80" y="152.7" width="1.25" height="13.3" fill="#26a69a" opacity="0.88"/>
<rect x="476.55" y="152.4" width="0.90" height="10.2" fill="#6f7478" opacity="0.60"/>
<rect x="477.95" y="140.3" width="1.25" height="11.7" fill="#26a69a" opacity="0.88"/>
<rect x="478.80" y="137.0" width="1.25" height="11.7" fill="#ef5350" opacity="0.88"/>
<rect x="478.55" y="140.0" width="0.90" height="9.0" fill="#6f7478" opacity="0.60"/>
<rect x="479.45" y="146.0" width="1.25" height="21.1" fill="#ef5350" opacity="0.88"/>
<rect x="480.30" y="151.9" width="1.25" height="21.1" fill="#26a69a" opacity="0.88"/>
<rect x="480.05" y="151.4" width="0.90" height="16.2" fill="#6f7478" opacity="0.60"/>
<rect x="480.95" y="170.0" width="1.25" height="12.4" fill="#ef5350" opacity="0.92"/>
<rect x="481.80" y="178.0" width="1.25" height="12.0" fill="#ef5350" opacity="0.92"/>
<rect x="482.10" y="188.0" width="0.80" height="13.0" fill="#ef5350" opacity="0.85"/>
<rect x="482.95" y="176.4" width="1.25" height="12.6" fill="#26a69a" opacity="0.92"/>
<rect x="483.80" y="168.0" width="1.25" height="13.0" fill="#26a69a" opacity="0.92"/>
<rect x="484.35" y="146.0" width="1.25" height="20.3" fill="#ef5350" opacity="0.88"/>
<rect x="485.19" y="151.7" width="1.25" height="20.3" fill="#26a69a" opacity="0.88"/>
<rect x="484.95" y="151.2" width="0.90" height="15.6" fill="#6f7478" opacity="0.60"/>
<rect x="486.35" y="144.0" width="1.25" height="18.7" fill="#ef5350" opacity="0.88"/>
<rect x="487.19" y="149.3" width="1.25" height="18.7" fill="#26a69a" opacity="0.88"/>
<rect x="486.95" y="148.8" width="0.90" height="14.4" fill="#6f7478" opacity="0.60"/>
<rect x="487.95" y="155.0" width="1.25" height="9.3" fill="#ef5350" opacity="0.92"/>
<rect x="488.80" y="161.0" width="1.25" height="9.0" fill="#ef5350" opacity="0.92"/>
<rect x="489.15" y="156.0" width="1.25" height="9.9" fill="#ef5350" opacity="0.50"/>
<rect x="490.00" y="162.4" width="1.25" height="9.6" fill="#ef5350" opacity="0.50"/>
<rect x="490.15" y="165.0" width="1.25" height="14.0" fill="#ef5350" opacity="0.88"/>
<rect x="491.00" y="169.0" width="1.25" height="14.0" fill="#26a69a" opacity="0.88"/>
<rect x="490.75" y="168.6" width="0.90" height="10.8" fill="#6f7478" opacity="0.60"/>
<rect x="491.56" y="170.0" width="1.25" height="17.2" fill="#ef5350" opacity="0.88"/>
<rect x="492.40" y="174.8" width="1.25" height="17.2" fill="#26a69a" opacity="0.88"/>
<rect x="492.15" y="174.4" width="0.90" height="13.2" fill="#6f7478" opacity="0.60"/>
<rect x="492.95" y="165.6" width="1.25" height="23.4" fill="#26a69a" opacity="0.92"/>
<rect x="493.80" y="150.0" width="1.25" height="24.2" fill="#26a69a" opacity="0.92"/>
<rect x="494.15" y="152.8" width="1.25" height="19.2" fill="#26a69a" opacity="0.92"/>
<rect x="495.00" y="140.0" width="1.25" height="19.8" fill="#26a69a" opacity="0.92"/>
<rect x="495.15" y="135.0" width="1.25" height="12.0" fill="#26a69a" opacity="0.92"/>
<rect x="496.00" y="127.0" width="1.25" height="12.4" fill="#26a69a" opacity="0.92"/>
<rect x="495.95" y="118.0" width="1.25" height="7.8" fill="#ef5350" opacity="0.88"/>
<rect x="496.80" y="120.2" width="1.25" height="7.8" fill="#26a69a" opacity="0.88"/>
<rect x="496.55" y="120.0" width="0.90" height="6.0" fill="#6f7478" opacity="0.60"/>
<rect x="497.45" y="125.0" width="1.25" height="9.3" fill="#ef5350" opacity="0.92"/>
<rect x="498.30" y="131.0" width="1.25" height="9.0" fill="#ef5350" opacity="0.92"/>
<rect x="498.95" y="138.0" width="1.25" height="13.3" fill="#ef5350" opacity="0.88"/>
<rect x="499.80" y="141.7" width="1.25" height="13.3" fill="#26a69a" opacity="0.88"/>
<rect x="499.55" y="141.4" width="0.90" height="10.2" fill="#6f7478" opacity="0.60"/>
<rect x="500.45" y="142.0" width="1.25" height="13.0" fill="#ef5350" opacity="0.92"/>
<rect x="501.30" y="150.4" width="1.25" height="12.6" fill="#ef5350" opacity="0.92"/>
<rect x="502.45" y="128.4" width="1.25" height="9.6" fill="#26a69a" opacity="0.92"/>
<rect x="503.30" y="122.0" width="1.25" height="9.9" fill="#26a69a" opacity="0.92"/>
<rect x="504.45" y="121.0" width="1.25" height="9.4" fill="#ef5350" opacity="0.88"/>
<rect x="505.30" y="123.6" width="1.25" height="9.4" fill="#26a69a" opacity="0.88"/>
<rect x="505.05" y="123.4" width="0.90" height="7.2" fill="#6f7478" opacity="0.60"/>
<rect x="505.95" y="137.0" width="1.25" height="13.3" fill="#ef5350" opacity="0.88"/>
<rect x="506.80" y="140.7" width="1.25" height="13.3" fill="#26a69a" opacity="0.88"/>
<rect x="506.55" y="140.4" width="0.90" height="10.2" fill="#6f7478" opacity="0.60"/>
<rect x="507.25" y="140.0" width="1.25" height="9.4" fill="#ef5350" opacity="0.88"/>
<rect x="508.10" y="142.6" width="1.25" height="9.4" fill="#26a69a" opacity="0.88"/>
<rect x="507.85" y="142.4" width="0.90" height="7.2" fill="#6f7478" opacity="0.60"/>
<rect x="508.45" y="132.0" width="1.25" height="11.7" fill="#ef5350" opacity="0.88"/>
<rect x="509.30" y="135.3" width="1.25" height="11.7" fill="#26a69a" opacity="0.88"/>
<rect x="509.05" y="135.0" width="0.90" height="9.0" fill="#6f7478" opacity="0.60"/>
<rect x="509.95" y="142.5" width="1.25" height="12.5" fill="#26a69a" opacity="0.88"/>
<rect x="510.80" y="139.0" width="1.25" height="12.5" fill="#ef5350" opacity="0.88"/>
<rect x="510.55" y="142.2" width="0.90" height="9.6" fill="#6f7478" opacity="0.60"/>
<rect x="511.46" y="136.0" width="1.25" height="14.0" fill="#26a69a" opacity="0.88"/>
<rect x="512.29" y="132.0" width="1.25" height="14.0" fill="#ef5350" opacity="0.88"/>
<rect x="512.05" y="135.6" width="0.90" height="10.8" fill="#6f7478" opacity="0.60"/>
<rect x="512.96" y="132.0" width="1.25" height="18.7" fill="#ef5350" opacity="0.88"/>
<rect x="513.79" y="137.3" width="1.25" height="18.7" fill="#26a69a" opacity="0.88"/>
<rect x="513.55" y="136.8" width="0.90" height="14.4" fill="#6f7478" opacity="0.60"/>
<rect x="514.46" y="134.0" width="1.25" height="8.6" fill="#ef5350" opacity="0.88"/>
<rect x="515.29" y="136.4" width="1.25" height="8.6" fill="#26a69a" opacity="0.88"/>
<rect x="515.05" y="136.2" width="0.90" height="6.6" fill="#6f7478" opacity="0.60"/>
<rect x="515.46" y="127.2" width="1.25" height="7.8" fill="#26a69a" opacity="0.92"/>
<rect x="516.29" y="122.0" width="1.25" height="8.1" fill="#26a69a" opacity="0.92"/>
<rect x="516.46" y="107.0" width="1.25" height="9.9" fill="#ef5350" opacity="0.92"/>
<rect x="517.29" y="113.4" width="1.25" height="9.6" fill="#ef5350" opacity="0.92"/>
<rect x="517.56" y="112.0" width="1.25" height="14.0" fill="#ef5350" opacity="0.88"/>
<rect x="518.39" y="116.0" width="1.25" height="14.0" fill="#26a69a" opacity="0.88"/>
<rect x="518.15" y="115.6" width="0.90" height="10.8" fill="#6f7478" opacity="0.60"/>
<rect x="518.66" y="115.0" width="1.25" height="16.4" fill="#ef5350" opacity="0.88"/>
<rect x="519.50" y="119.6" width="1.25" height="16.4" fill="#26a69a" opacity="0.88"/>
<rect x="519.25" y="119.2" width="0.90" height="12.6" fill="#6f7478" opacity="0.60"/>
<rect x="520.46" y="113.0" width="1.25" height="12.5" fill="#ef5350" opacity="0.88"/>
<rect x="521.29" y="116.5" width="1.25" height="12.5" fill="#26a69a" opacity="0.88"/>
<rect x="521.05" y="116.2" width="0.90" height="9.6" fill="#6f7478" opacity="0.60"/>
<rect x="522.46" y="112.1" width="1.25" height="10.9" fill="#26a69a" opacity="0.88"/>
<rect x="523.29" y="109.0" width="1.25" height="10.9" fill="#ef5350" opacity="0.88"/>
<rect x="523.05" y="111.8" width="0.90" height="8.4" fill="#6f7478" opacity="0.60"/>
<rect x="524.46" y="116.5" width="1.25" height="12.5" fill="#26a69a" opacity="0.88"/>
<rect x="525.29" y="113.0" width="1.25" height="12.5" fill="#ef5350" opacity="0.88"/>
<rect x="525.05" y="116.2" width="0.90" height="9.6" fill="#6f7478" opacity="0.60"/>
<rect x="525.46" y="112.6" width="1.25" height="5.4" fill="#26a69a" opacity="0.92"/>
<rect x="526.29" y="109.0" width="1.25" height="5.6" fill="#26a69a" opacity="0.92"/>
<rect x="526.46" y="121.0" width="1.25" height="9.4" fill="#ef5350" opacity="0.88"/>
<rect x="527.29" y="123.6" width="1.25" height="9.4" fill="#26a69a" opacity="0.88"/>
<rect x="527.05" y="123.4" width="0.90" height="7.2" fill="#6f7478" opacity="0.60"/>
<rect x="528.10" y="128.0" width="0.80" height="13.0" fill="#26a69a" opacity="0.85"/>
<rect x="528.96" y="115.0" width="1.25" height="10.1" fill="#ef5350" opacity="0.88"/>
<rect x="529.79" y="117.9" width="1.25" height="10.1" fill="#26a69a" opacity="0.88"/>
<rect x="529.55" y="117.6" width="0.90" height="7.8" fill="#6f7478" opacity="0.60"/>
<rect x="530.36" y="107.0" width="1.25" height="9.0" fill="#26a69a" opacity="0.92"/>
<rect x="531.19" y="101.0" width="1.25" height="9.3" fill="#26a69a" opacity="0.92"/>
<rect x="531.16" y="101.4" width="1.25" height="6.6" fill="#26a69a" opacity="0.92"/>
<rect x="532.00" y="97.0" width="1.25" height="6.8" fill="#26a69a" opacity="0.92"/>
<rect x="531.96" y="105.0" width="1.25" height="7.0" fill="#ef5350" opacity="0.88"/>
<rect x="532.79" y="107.0" width="1.25" height="7.0" fill="#26a69a" opacity="0.88"/>
<rect x="532.55" y="106.8" width="0.90" height="5.4" fill="#6f7478" opacity="0.60"/>
<rect x="532.96" y="112.0" width="1.25" height="9.9" fill="#ef5350" opacity="0.50"/>
<rect x="533.79" y="118.4" width="1.25" height="9.6" fill="#ef5350" opacity="0.50"/>
<rect x="533.96" y="125.0" width="1.25" height="13.3" fill="#ef5350" opacity="0.88"/>
<rect x="534.79" y="128.7" width="1.25" height="13.3" fill="#26a69a" opacity="0.88"/>
<rect x="534.55" y="128.4" width="0.90" height="10.2" fill="#6f7478" opacity="0.60"/>
<rect x="534.96" y="139.0" width="1.25" height="11.2" fill="#ef5350" opacity="0.50"/>
<rect x="535.79" y="146.2" width="1.25" height="10.8" fill="#ef5350" opacity="0.50"/>
<rect x="535.75" y="159.4" width="1.25" height="6.6" fill="#26a69a" opacity="0.92"/>
<rect x="536.59" y="155.0" width="1.25" height="6.8" fill="#26a69a" opacity="0.92"/>
<rect x="536.96" y="144.0" width="1.25" height="9.4" fill="#ef5350" opacity="0.88"/>
<rect x="537.79" y="146.6" width="1.25" height="9.4" fill="#26a69a" opacity="0.88"/>
<rect x="537.55" y="146.4" width="0.90" height="7.2" fill="#6f7478" opacity="0.60"/>
<rect x="537.96" y="125.0" width="1.25" height="17.2" fill="#ef5350" opacity="0.88"/>
<rect x="538.79" y="129.8" width="1.25" height="17.2" fill="#26a69a" opacity="0.88"/>
<rect x="538.55" y="129.4" width="0.90" height="13.2" fill="#6f7478" opacity="0.60"/>
<rect x="538.96" y="125.0" width="1.25" height="9.3" fill="#ef5350" opacity="0.92"/>
<rect x="539.79" y="131.0" width="1.25" height="9.0" fill="#ef5350" opacity="0.92"/>
<rect x="539.96" y="135.0" width="1.25" height="20.5" fill="#ef5350" opacity="0.50"/>
<rect x="540.79" y="148.2" width="1.25" height="19.8" fill="#ef5350" opacity="0.50"/>
<rect x="540.96" y="166.0" width="1.25" height="11.2" fill="#ef5350" opacity="0.50"/>
<rect x="541.79" y="173.2" width="1.25" height="10.8" fill="#ef5350" opacity="0.50"/>
<rect x="541.96" y="172.0" width="1.25" height="9.3" fill="#ef5350" opacity="0.92"/>
<rect x="542.79" y="178.0" width="1.25" height="9.0" fill="#ef5350" opacity="0.92"/>
<rect x="543.46" y="184.0" width="1.25" height="11.2" fill="#ef5350" opacity="0.92"/>
<rect x="544.29" y="191.2" width="1.25" height="10.8" fill="#ef5350" opacity="0.92"/>
<rect x="544.96" y="189.6" width="1.25" height="16.4" fill="#26a69a" opacity="0.88"/>
<rect x="545.79" y="185.0" width="1.25" height="16.4" fill="#ef5350" opacity="0.88"/>
<rect x="545.55" y="189.2" width="0.90" height="12.6" fill="#6f7478" opacity="0.60"/>
<rect x="546.96" y="186.0" width="1.25" height="10.1" fill="#ef5350" opacity="0.88"/>
<rect x="547.79" y="188.9" width="1.25" height="10.1" fill="#26a69a" opacity="0.88"/>
<rect x="547.55" y="188.6" width="0.90" height="7.8" fill="#6f7478" opacity="0.60"/>
<rect x="548.46" y="185.0" width="1.25" height="20.3" fill="#ef5350" opacity="0.88"/>
<rect x="549.29" y="190.7" width="1.25" height="20.3" fill="#26a69a" opacity="0.88"/>
<rect x="549.05" y="190.2" width="0.90" height="15.6" fill="#6f7478" opacity="0.60"/>
<rect x="549.96" y="202.0" width="1.25" height="9.0" fill="#26a69a" opacity="0.92"/>
<rect x="550.79" y="196.0" width="1.25" height="9.3" fill="#26a69a" opacity="0.92"/>
<rect x="551.46" y="198.0" width="1.25" height="14.0" fill="#26a69a" opacity="0.88"/>
<rect x="552.29" y="194.0" width="1.25" height="14.0" fill="#ef5350" opacity="0.88"/>
<rect x="552.05" y="197.6" width="0.90" height="10.8" fill="#6f7478" opacity="0.60"/>
<rect x="552.96" y="187.6" width="1.25" height="8.4" fill="#26a69a" opacity="0.92"/>
<rect x="553.79" y="182.0" width="1.25" height="8.7" fill="#26a69a" opacity="0.92"/>
<rect x="554.46" y="181.0" width="1.25" height="9.0" fill="#26a69a" opacity="0.92"/>
<rect x="555.29" y="175.0" width="1.25" height="9.3" fill="#26a69a" opacity="0.92"/>
<rect x="555.96" y="174.1" width="1.25" height="10.9" fill="#26a69a" opacity="0.88"/>
<rect x="556.79" y="171.0" width="1.25" height="10.9" fill="#ef5350" opacity="0.88"/>
<rect x="556.55" y="173.8" width="0.90" height="8.4" fill="#6f7478" opacity="0.60"/>
<rect x="557.60" y="178.0" width="0.80" height="15.0" fill="#26a69a" opacity="0.85"/>
<rect x="557.96" y="159.0" width="1.25" height="14.8" fill="#ef5350" opacity="0.88"/>
<rect x="558.79" y="163.2" width="1.25" height="14.8" fill="#26a69a" opacity="0.88"/>
<rect x="558.55" y="162.8" width="0.90" height="11.4" fill="#6f7478" opacity="0.60"/>
<rect x="559.56" y="148.2" width="1.25" height="14.8" fill="#26a69a" opacity="0.88"/>
<rect x="560.39" y="144.0" width="1.25" height="14.8" fill="#ef5350" opacity="0.88"/>
<rect x="560.15" y="147.8" width="0.90" height="11.4" fill="#6f7478" opacity="0.60"/>
<rect x="560.96" y="148.0" width="1.25" height="14.0" fill="#ef5350" opacity="0.88"/>
<rect x="561.79" y="152.0" width="1.25" height="14.0" fill="#26a69a" opacity="0.88"/>
<rect x="561.55" y="151.6" width="0.90" height="10.8" fill="#6f7478" opacity="0.60"/>
<rect x="562.16" y="152.6" width="1.25" height="23.4" fill="#26a69a" opacity="0.88"/>
<rect x="563.00" y="146.0" width="1.25" height="23.4" fill="#ef5350" opacity="0.88"/>
<rect x="562.75" y="152.0" width="0.90" height="18.0" fill="#6f7478" opacity="0.60"/>
<rect x="563.56" y="147.7" width="1.25" height="13.3" fill="#26a69a" opacity="0.88"/>
<rect x="564.39" y="144.0" width="1.25" height="13.3" fill="#ef5350" opacity="0.88"/>
<rect x="564.15" y="147.4" width="0.90" height="10.2" fill="#6f7478" opacity="0.60"/>
<rect x="565.46" y="147.1" width="1.25" height="10.9" fill="#26a69a" opacity="0.88"/>
<rect x="566.29" y="144.0" width="1.25" height="10.9" fill="#ef5350" opacity="0.88"/>
<rect x="566.05" y="146.8" width="0.90" height="8.4" fill="#6f7478" opacity="0.60"/>
<rect x="566.96" y="151.1" width="1.25" height="10.9" fill="#26a69a" opacity="0.88"/>
<rect x="567.79" y="148.0" width="1.25" height="10.9" fill="#ef5350" opacity="0.88"/>
<rect x="567.55" y="150.8" width="0.90" height="8.4" fill="#6f7478" opacity="0.60"/>
<rect x="568.46" y="148.0" width="1.25" height="14.0" fill="#ef5350" opacity="0.88"/>
<rect x="569.29" y="152.0" width="1.25" height="14.0" fill="#26a69a" opacity="0.88"/>
<rect x="569.05" y="151.6" width="0.90" height="10.8" fill="#6f7478" opacity="0.60"/>
<rect x="569.96" y="148.8" width="1.25" height="7.2" fill="#26a69a" opacity="0.92"/>
<rect x="570.79" y="144.0" width="1.25" height="7.4" fill="#26a69a" opacity="0.92"/>
<rect x="570.96" y="139.4" width="1.25" height="6.6" fill="#26a69a" opacity="0.92"/>
<rect x="571.79" y="135.0" width="1.25" height="6.8" fill="#26a69a" opacity="0.92"/>
<rect x="571.75" y="150.0" width="1.25" height="13.6" fill="#ef5350" opacity="0.50"/>
<rect x="572.59" y="158.8" width="1.25" height="13.2" fill="#ef5350" opacity="0.50"/>
<rect x="572.96" y="170.0" width="1.25" height="10.5" fill="#ef5350" opacity="0.92"/>
<rect x="573.79" y="176.8" width="1.25" height="10.2" fill="#ef5350" opacity="0.92"/>
<rect x="574.46" y="172.0" width="1.25" height="6.0" fill="#26a69a" opacity="0.92"/>
<rect x="575.29" y="168.0" width="1.25" height="6.2" fill="#26a69a" opacity="0.92"/>
<rect x="576.46" y="159.2" width="1.25" height="10.8" fill="#26a69a" opacity="0.92"/>
<rect x="577.29" y="152.0" width="1.25" height="11.2" fill="#26a69a" opacity="0.92"/>
<rect x="578.25" y="151.0" width="1.25" height="11.7" fill="#ef5350" opacity="0.88"/>
<rect x="579.09" y="154.3" width="1.25" height="11.7" fill="#26a69a" opacity="0.88"/>
<rect x="578.85" y="154.0" width="0.90" height="9.0" fill="#6f7478" opacity="0.60"/>
<rect x="579.96" y="151.0" width="1.25" height="11.7" fill="#ef5350" opacity="0.88"/>
<rect x="580.79" y="154.3" width="1.25" height="11.7" fill="#26a69a" opacity="0.88"/>
<rect x="580.55" y="154.0" width="0.90" height="9.0" fill="#6f7478" opacity="0.60"/>
<rect x="581.96" y="155.4" width="1.25" height="15.6" fill="#26a69a" opacity="0.88"/>
<rect x="582.79" y="151.0" width="1.25" height="15.6" fill="#ef5350" opacity="0.88"/>
<rect x="582.55" y="155.0" width="0.90" height="12.0" fill="#6f7478" opacity="0.60"/>
<rect x="583.96" y="148.6" width="1.25" height="8.4" fill="#26a69a" opacity="0.92"/>
<rect x="584.79" y="143.0" width="1.25" height="8.7" fill="#26a69a" opacity="0.92"/>
<rect x="585.46" y="147.2" width="1.25" height="7.8" fill="#26a69a" opacity="0.88"/>
<rect x="586.29" y="145.0" width="1.25" height="7.8" fill="#ef5350" opacity="0.88"/>
<rect x="586.05" y="147.0" width="0.90" height="6.0" fill="#6f7478" opacity="0.60"/>
<rect x="586.96" y="144.0" width="1.25" height="13.6" fill="#ef5350" opacity="0.92"/>
<rect x="587.79" y="152.8" width="1.25" height="13.2" fill="#ef5350" opacity="0.92"/>
<rect x="587.96" y="167.5" width="1.25" height="12.5" fill="#26a69a" opacity="0.88"/>
<rect x="588.79" y="164.0" width="1.25" height="12.5" fill="#ef5350" opacity="0.88"/>
<rect x="588.55" y="167.2" width="0.90" height="9.6" fill="#6f7478" opacity="0.60"/>
<rect x="589.46" y="170.0" width="1.25" height="12.4" fill="#ef5350" opacity="0.92"/>
<rect x="590.29" y="178.0" width="1.25" height="12.0" fill="#ef5350" opacity="0.92"/>
<rect x="590.96" y="188.0" width="1.25" height="6.2" fill="#ef5350" opacity="0.50"/>
<rect x="591.79" y="192.0" width="1.25" height="6.0" fill="#ef5350" opacity="0.50"/>
<rect x="592.46" y="192.0" width="1.25" height="7.4" fill="#ef5350" opacity="0.92"/>
<rect x="593.29" y="196.8" width="1.25" height="7.2" fill="#ef5350" opacity="0.92"/>
<rect x="593.75" y="198.0" width="1.25" height="6.2" fill="#ef5350" opacity="0.88"/>
<rect x="594.59" y="199.8" width="1.25" height="6.2" fill="#26a69a" opacity="0.88"/>
<rect x="594.35" y="199.6" width="0.90" height="4.8" fill="#6f7478" opacity="0.60"/>
<rect x="594.96" y="180.8" width="1.25" height="13.2" fill="#26a69a" opacity="0.92"/>
<rect x="595.79" y="172.0" width="1.25" height="13.6" fill="#26a69a" opacity="0.92"/>
<rect x="596.46" y="173.0" width="1.25" height="11.7" fill="#ef5350" opacity="0.88"/>
<rect x="597.29" y="176.3" width="1.25" height="11.7" fill="#26a69a" opacity="0.88"/>
<rect x="597.05" y="176.0" width="0.90" height="9.0" fill="#6f7478" opacity="0.60"/>
<rect x="597.96" y="172.8" width="1.25" height="10.2" fill="#26a69a" opacity="0.92"/>
<rect x="598.79" y="166.0" width="1.25" height="10.5" fill="#26a69a" opacity="0.92"/>
<rect x="599.56" y="166.0" width="1.25" height="9.0" fill="#26a69a" opacity="0.92"/>
<rect x="600.39" y="160.0" width="1.25" height="9.3" fill="#26a69a" opacity="0.92"/>
<rect x="600.96" y="161.8" width="1.25" height="7.2" fill="#26a69a" opacity="0.92"/>
<rect x="601.79" y="157.0" width="1.25" height="7.4" fill="#26a69a" opacity="0.92"/>
<rect x="602.46" y="163.3" width="1.25" height="11.7" fill="#26a69a" opacity="0.88"/>
<rect x="603.29" y="160.0" width="1.25" height="11.7" fill="#ef5350" opacity="0.88"/>
<rect x="603.05" y="163.0" width="0.90" height="9.0" fill="#6f7478" opacity="0.60"/>
<rect x="603.96" y="150.5" width="1.25" height="12.5" fill="#26a69a" opacity="0.88"/>
<rect x="604.79" y="147.0" width="1.25" height="12.5" fill="#ef5350" opacity="0.88"/>
<rect x="604.55" y="150.2" width="0.90" height="9.6" fill="#6f7478" opacity="0.60"/>
<rect x="605.96" y="151.4" width="1.25" height="8.6" fill="#26a69a" opacity="0.88"/>
<rect x="606.79" y="149.0" width="1.25" height="8.6" fill="#ef5350" opacity="0.88"/>
<rect x="606.55" y="151.2" width="0.90" height="6.6" fill="#6f7478" opacity="0.60"/>
<rect x="607.56" y="152.8" width="1.25" height="6.2" fill="#26a69a" opacity="0.88"/>
<rect x="608.39" y="151.0" width="1.25" height="6.2" fill="#ef5350" opacity="0.88"/>
<rect x="608.15" y="152.6" width="0.90" height="4.8" fill="#6f7478" opacity="0.60"/>
<rect x="608.96" y="149.9" width="1.25" height="10.1" fill="#26a69a" opacity="0.88"/>
<rect x="609.79" y="147.0" width="1.25" height="10.1" fill="#ef5350" opacity="0.88"/>
<rect x="609.55" y="149.6" width="0.90" height="7.8" fill="#6f7478" opacity="0.60"/>
<rect x="610.46" y="158.0" width="1.25" height="14.9" fill="#ef5350" opacity="0.92"/>
<rect x="611.29" y="167.6" width="1.25" height="14.4" fill="#ef5350" opacity="0.92"/>
<rect x="611.96" y="162.0" width="1.25" height="8.7" fill="#ef5350" opacity="0.50"/>
<rect x="612.79" y="167.6" width="1.25" height="8.4" fill="#ef5350" opacity="0.50"/>
<rect x="613.46" y="174.6" width="1.25" height="9.4" fill="#26a69a" opacity="0.88"/>
<rect x="614.29" y="172.0" width="1.25" height="9.4" fill="#ef5350" opacity="0.88"/>
<rect x="614.05" y="174.4" width="0.90" height="7.2" fill="#6f7478" opacity="0.60"/>
<rect x="614.96" y="176.0" width="1.25" height="10.9" fill="#ef5350" opacity="0.88"/>
<rect x="615.79" y="179.1" width="1.25" height="10.9" fill="#26a69a" opacity="0.88"/>
<rect x="615.55" y="178.8" width="0.90" height="8.4" fill="#6f7478" opacity="0.60"/>
<rect x="616.46" y="181.9" width="1.25" height="10.1" fill="#26a69a" opacity="0.88"/>
<rect x="617.29" y="179.0" width="1.25" height="10.1" fill="#ef5350" opacity="0.88"/>
<rect x="617.05" y="181.6" width="0.90" height="7.8" fill="#6f7478" opacity="0.60"/>
<rect x="617.96" y="179.0" width="1.25" height="9.9" fill="#ef5350" opacity="0.92"/>
<rect x="618.79" y="185.4" width="1.25" height="9.6" fill="#ef5350" opacity="0.92"/>
<rect x="619.46" y="194.0" width="1.25" height="13.0" fill="#ef5350" opacity="0.50"/>
<rect x="620.29" y="202.4" width="1.25" height="12.6" fill="#ef5350" opacity="0.50"/>
<rect x="620.46" y="211.0" width="1.25" height="8.7" fill="#ef5350" opacity="0.92"/>
<rect x="621.29" y="216.6" width="1.25" height="8.4" fill="#ef5350" opacity="0.92"/>
<rect x="621.46" y="211.0" width="1.25" height="10.1" fill="#ef5350" opacity="0.88"/>
<rect x="622.29" y="213.9" width="1.25" height="10.1" fill="#26a69a" opacity="0.88"/>
<rect x="622.05" y="213.6" width="0.90" height="7.8" fill="#6f7478" opacity="0.60"/>
<rect x="622.56" y="208.2" width="1.25" height="7.8" fill="#26a69a" opacity="0.92"/>
<rect x="623.39" y="203.0" width="1.25" height="8.1" fill="#26a69a" opacity="0.92"/>
<rect x="623.96" y="196.8" width="1.25" height="7.2" fill="#26a69a" opacity="0.92"/>
<rect x="624.79" y="192.0" width="1.25" height="7.4" fill="#26a69a" opacity="0.92"/>
<rect x="625.16" y="197.0" width="1.25" height="7.0" fill="#ef5350" opacity="0.88"/>
<rect x="626.00" y="199.0" width="1.25" height="7.0" fill="#26a69a" opacity="0.88"/>
<rect x="625.75" y="198.8" width="0.90" height="5.4" fill="#6f7478" opacity="0.60"/>
<rect x="626.46" y="198.0" width="1.25" height="6.2" fill="#ef5350" opacity="0.50"/>
<rect x="627.29" y="202.0" width="1.25" height="6.0" fill="#ef5350" opacity="0.50"/>
</g>
<g stroke="#62b6e6" stroke-width="0.9" fill="none" opacity="0.35"><line x1="271.5" y1="400.5" x2="656" y2="169"/></g>
<line x1="0" y1="206.3" x2="897.5" y2="206.3" stroke="#3f62c8" stroke-width="1" opacity="0.75"/>
<line x1="0" y1="205.6" x2="897.5" y2="205.6" stroke="#e06c75" stroke-width="1" stroke-dasharray="1.2,1.2"/>
<g stroke="#2b8fdc" stroke-width="1.35" fill="none" stroke-linecap="round" stroke-linejoin="round">
<path d="M634.7 202.5 L655 304.6 M648.1 299.3 L655 304.6 L659.9 297.7"/>
<path d="M664.5 305.2 L669.8 224 M664.1 229.4 L669.8 224 L675.5 229.8"/>
<path d="M684.6 240.7 L710.6 369.6 M703.7 364.7 L710.6 369.6 L715.5 362.1"/>
</g>
<rect x="896.9" y="0" width="1.9" height="550" fill="#a2a5ad"/>
<rect x="0" y="531.9" width="932" height="1.6" fill="#8c8e96"/>
<g stroke="#8f9199" stroke-width="1" shape-rendering="crispEdges">
<line x1="14.4" y1="532.5" x2="14.4" y2="535.0"/>
<line x1="64.4" y1="532.5" x2="64.4" y2="535.0"/>
<line x1="115.9" y1="532.5" x2="115.9" y2="535.0"/>
<line x1="166.4" y1="532.5" x2="166.4" y2="535.0"/>
<line x1="216.3" y1="532.5" x2="216.3" y2="535.0"/>
<line x1="268.1" y1="532.5" x2="268.1" y2="535.0"/>
<line x1="318.3" y1="532.5" x2="318.3" y2="535.0"/>
<line x1="367.8" y1="532.5" x2="367.8" y2="535.0"/>
<line x1="420.6" y1="532.5" x2="420.6" y2="535.0"/>
<line x1="470.3" y1="532.5" x2="470.3" y2="535.0"/>
<line x1="520.5" y1="532.5" x2="520.5" y2="535.0"/>
<line x1="572.3" y1="532.5" x2="572.3" y2="535.0"/>
<line x1="622.5" y1="532.5" x2="622.5" y2="535.0"/>
<line x1="673.2" y1="532.5" x2="673.2" y2="535.0"/>
<line x1="724.3" y1="532.5" x2="724.3" y2="535.0"/>
<line x1="776.3" y1="532.5" x2="776.3" y2="535.0"/>
<line x1="826.5" y1="532.5" x2="826.5" y2="535.0"/>
<line x1="877.5" y1="532.5" x2="877.5" y2="535.0"/>
<line x1="897.5" y1="8.6" x2="901.0" y2="8.6"/>
<line x1="897.5" y1="29.2" x2="901.0" y2="29.2"/>
<line x1="897.5" y1="49.8" x2="901.0" y2="49.8"/>
<line x1="897.5" y1="70.4" x2="901.0" y2="70.4"/>
<line x1="897.5" y1="91.0" x2="901.0" y2="91.0"/>
<line x1="897.5" y1="111.6" x2="901.0" y2="111.6"/>
<line x1="897.5" y1="132.2" x2="901.0" y2="132.2"/>
<line x1="897.5" y1="152.8" x2="901.0" y2="152.8"/>
<line x1="897.5" y1="173.4" x2="901.0" y2="173.4"/>
<line x1="897.5" y1="194.0" x2="901.0" y2="194.0"/>
<line x1="897.5" y1="214.6" x2="901.0" y2="214.6"/>
<line x1="897.5" y1="235.2" x2="901.0" y2="235.2"/>
<line x1="897.5" y1="255.8" x2="901.0" y2="255.8"/>
<line x1="897.5" y1="276.4" x2="901.0" y2="276.4"/>
<line x1="897.5" y1="297.0" x2="901.0" y2="297.0"/>
<line x1="897.5" y1="317.6" x2="901.0" y2="317.6"/>
<line x1="897.5" y1="338.2" x2="901.0" y2="338.2"/>
<line x1="897.5" y1="358.8" x2="901.0" y2="358.8"/>
<line x1="897.5" y1="379.4" x2="901.0" y2="379.4"/>
<line x1="897.5" y1="400.0" x2="901.0" y2="400.0"/>
<line x1="897.5" y1="420.6" x2="901.0" y2="420.6"/>
<line x1="897.5" y1="441.2" x2="901.0" y2="441.2"/>
<line x1="897.5" y1="461.8" x2="901.0" y2="461.8"/>
<line x1="897.5" y1="482.4" x2="901.0" y2="482.4"/>
<line x1="897.5" y1="503.0" x2="901.0" y2="503.0"/>
<line x1="897.5" y1="523.6" x2="901.0" y2="523.6"/>
</g>
<g>
<circle cx="628.9" cy="523.3" r="7.3" fill="#fff" stroke="#ef4a4a" stroke-width="1.5"/>
<path d="M629 520.6 h5.6 M628.8 523.2 h6.4 M623 526.6 h11.8 M624.6 529.1 h8.6" stroke="#ef5350" stroke-width="1.05"/>
<path d="M622.9 524.6 L622.9 521.4 Q624.3 517.6 628.6 517.4 L628.6 524.6 Z" fill="#6c9fdc"/>
<path d="M624.6 520.5h1M626.6 519.3h1M625.6 522.5h1M627.4 521.4h.8M624.2 523.6h.8M626.8 523.6h.8" stroke="#dfe9f7" stroke-width="0.8"/>
<rect x="630.4" y="513" width="9" height="9.3" fill="#fff"/>
</g>
</svg>
<div id="title">U.S. Dollar / Canadian Dollar, 1D, FXCM</div>
<div class="pl" style="top:4.0px">1.40000</div>
<div class="pl" style="top:24.6px">1.39000</div>
<div class="pl" style="top:45.2px">1.38000</div>
<div class="pl" style="top:65.8px">1.37000</div>
<div class="pl" style="top:86.4px">1.36000</div>
<div class="pl" style="top:107.0px">1.35000</div>
<div class="pl" style="top:127.6px">1.34000</div>
<div class="pl" style="top:148.2px">1.33000</div>
<div class="pl" style="top:168.8px">1.32000</div>
<div class="pl" style="top:189.4px">1.31000</div>
<div class="pl" style="top:210.0px">1.30000</div>
<div class="pl" style="top:230.6px">1.29000</div>
<div class="pl" style="top:251.2px">1.28000</div>
<div class="pl" style="top:271.8px">1.27000</div>
<div class="pl" style="top:292.4px">1.26000</div>
<div class="pl" style="top:313.0px">1.25000</div>
<div class="pl" style="top:333.6px">1.24000</div>
<div class="pl" style="top:354.2px">1.23000</div>
<div class="pl" style="top:374.8px">1.22000</div>
<div class="pl" style="top:395.4px">1.21000</div>
<div class="pl" style="top:416.0px">1.20000</div>
<div class="pl" style="top:436.6px">1.19000</div>
<div class="pl" style="top:457.2px">1.18000</div>
<div class="pl" style="top:477.8px">1.17000</div>
<div class="pl" style="top:498.4px">1.16000</div>
<div class="pl" style="top:519.0px">1.15000</div>
<div class="xl b" style="left:14.4px">2016</div>
<div class="xl" style="left:64.4px">May</div>
<div class="xl" style="left:115.9px">Sep</div>
<div class="xl b" style="left:166.4px">2017</div>
<div class="xl" style="left:216.3px">May</div>
<div class="xl" style="left:268.1px">Sep</div>
<div class="xl b" style="left:318.3px">2018</div>
<div class="xl" style="left:367.8px">May</div>
<div class="xl" style="left:420.6px">Sep</div>
<div class="xl b" style="left:470.3px">2019</div>
<div class="xl" style="left:520.5px">May</div>
<div class="xl" style="left:572.3px">Sep</div>
<div class="xl b" style="left:622.5px">2020</div>
<div class="xl" style="left:673.2px">May</div>
<div class="xl" style="left:724.3px">Sep</div>
<div class="xl b" style="left:776.3px">2021</div>
<div class="xl" style="left:826.5px">May</div>
<div class="xl" style="left:877.5px">Sep</div>
<div class="tag" style="top:144.8px;background:#1f1c4f;height:10.0px;line-height:10.0px"><i></i><span>1.33149</span></div>
<div class="tag" style="top:188.5px;background:#1f1c4f;height:10.0px;line-height:10.0px"><i></i><span>1.31030</span></div>
<div class="tag" style="top:198.5px;background:#1f9ad6;height:11.3px;line-height:11.3px"><i></i><span>1.30557</span></div>
<div class="tag" style="top:209.8px;background:#ef5350;height:10.4px;line-height:10.4px"><i></i><span>1.30420</span></div>
<div class="tag" style="top:220.2px;background:#1e53c6;height:10.6px;line-height:10.6px"><i></i><span>1.30406</span></div>
<div class="tag" style="top:312.2px;background:#1f1c4f;height:10.0px;line-height:10.0px"><i></i><span>1.25022</span></div>
<div class="tag" style="top:386.4px;background:#1f1c4f;height:10.0px;line-height:10.0px"><i></i><span>1.21407</span></div>
<div class="t" style="left:631.5px;top:513.5px;font-size:8px;font-weight:bold;color:#3c3f4a;line-height:10px">6</div>
</body></html>
